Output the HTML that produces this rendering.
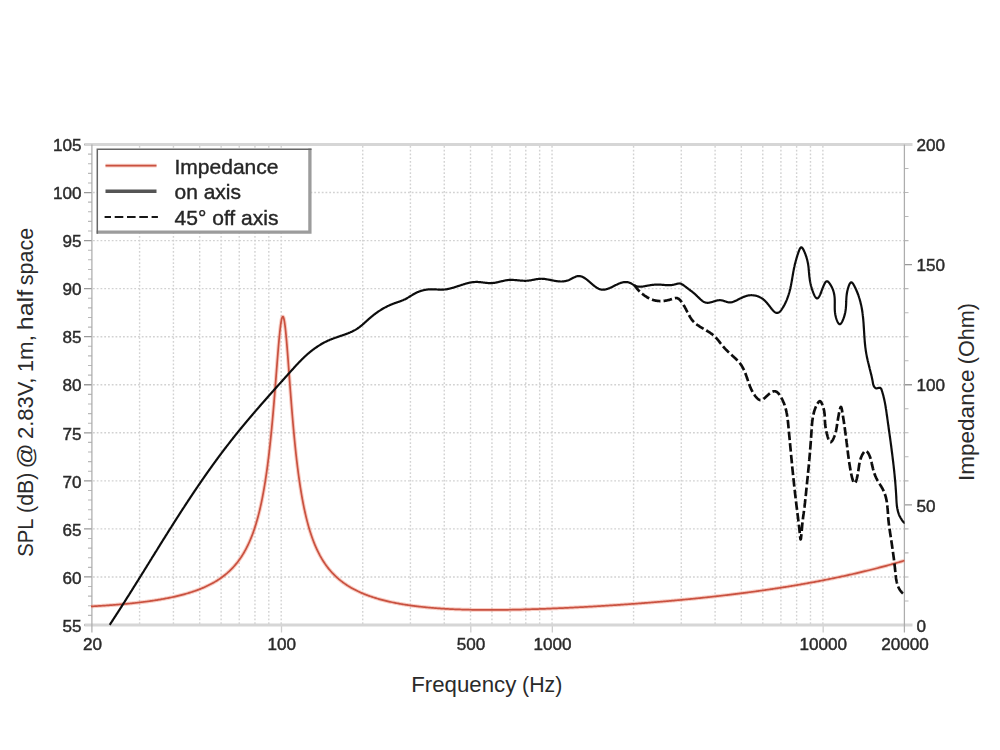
<!DOCTYPE html>
<html><head><meta charset="utf-8"><title>Frequency response</title>
<style>html,body{margin:0;padding:0;background:#fff;width:1000px;height:750px;overflow:hidden}svg{display:block}</style></head>
<body>
<svg width="1000" height="750" viewBox="0 0 1000 750">
<rect width="1000" height="750" fill="#fff"/>
<filter id="b" x="0" y="0" width="1000" height="750" filterUnits="userSpaceOnUse"><feGaussianBlur stdDeviation="0.7"/></filter>
<g filter="url(#b)">
<g stroke="#d2d2d2" stroke-width="1.4" stroke-dasharray="1.8 1.95" fill="none">
<path d="M93,576.95H904"/>
<path d="M93,528.90H904"/>
<path d="M93,480.85H904"/>
<path d="M93,432.80H904"/>
<path d="M93,384.75H904"/>
<path d="M93,336.70H904"/>
<path d="M93,288.65H904"/>
<path d="M93,240.60H904"/>
<path d="M93,192.55H904"/>
<path d="M139.59,146V624"/>
<path d="M173.43,146V624"/>
<path d="M199.68,146V624"/>
<path d="M221.12,146V624"/>
<path d="M239.25,146V624"/>
<path d="M254.96,146V624"/>
<path d="M268.81,146V624"/>
<path d="M281.20,146V624"/>
<path d="M362.73,146V624"/>
<path d="M410.42,146V624"/>
<path d="M444.26,146V624"/>
<path d="M470.51,146V624"/>
<path d="M491.95,146V624"/>
<path d="M510.09,146V624"/>
<path d="M525.79,146V624"/>
<path d="M539.65,146V624"/>
<path d="M552.04,146V624"/>
<path d="M633.57,146V624"/>
<path d="M681.26,146V624"/>
<path d="M715.10,146V624"/>
<path d="M741.34,146V624"/>
<path d="M762.79,146V624"/>
<path d="M780.92,146V624"/>
<path d="M796.62,146V624"/>
<path d="M810.48,146V624"/>
<path d="M822.87,146V624"/>
</g>
<path d="M281.50,625.00V632.50M470.81,625.00V632.50M552.34,625.00V632.50M823.17,625.00V632.50" stroke="#cdcdcd" stroke-width="1.3" fill="none"/>
<path d="M84,625.00H92M84,576.95H92M84,528.90H92M84,480.85H92M84,432.80H92M84,384.75H92M84,336.70H92M84,288.65H92M84,240.60H92M84,192.55H92M84,144.50H92M904,625.00H912M904,504.88H912M904,384.75H912M904,264.62H912M904,144.50H912" stroke="#999" stroke-width="1.3" fill="none"/>
<path d="M88,615.39H92M88,605.78H92M88,596.17H92M88,586.56H92M88,567.34H92M88,557.73H92M88,548.12H92M88,538.51H92M88,519.29H92M88,509.68H92M88,500.07H92M88,490.46H92M88,471.24H92M88,461.63H92M88,452.02H92M88,442.41H92M88,423.19H92M88,413.58H92M88,403.97H92M88,394.36H92M88,375.14H92M88,365.53H92M88,355.92H92M88,346.31H92M88,327.09H92M88,317.48H92M88,307.87H92M88,298.26H92M88,279.04H92M88,269.43H92M88,259.82H92M88,250.21H92M88,230.99H92M88,221.38H92M88,211.77H92M88,202.16H92M88,182.94H92M88,173.33H92M88,163.72H92M88,154.11H92M904,600.98H908.5M904,576.95H908.5M904,552.92H908.5M904,528.90H908.5M904,480.85H908.5M904,456.82H908.5M904,432.80H908.5M904,408.77H908.5M904,360.73H908.5M904,336.70H908.5M904,312.68H908.5M904,288.65H908.5M904,240.60H908.5M904,216.57H908.5M904,192.55H908.5M904,168.52H908.5" stroke="#b8b8b8" stroke-width="1.1" fill="none"/>
<path d="M84.5,144.50H912.5M84.5,625.00H912.5" stroke="#d6d6d6" stroke-width="3" fill="none"/>
<path d="M91.90,144.50V632.50M904.40,144.50V632.50" stroke="#adadad" stroke-width="1.25" fill="none"/>
<clipPath id="c"><rect x="91" y="140" width="814.5" height="486"/></clipPath>
<g clip-path="url(#c)" fill="none" stroke-linejoin="round" stroke-linecap="butt">
<path d="M90.90,606.40 L91.90,606.35 L92.90,606.29 L93.90,606.24 L94.90,606.18 L95.90,606.12 L96.90,606.06 L97.90,606.00 L98.90,605.94 L99.90,605.88 L100.90,605.82 L101.90,605.76 L102.90,605.69 L103.90,605.63 L104.90,605.56 L105.90,605.49 L106.90,605.42 L107.90,605.35 L108.90,605.28 L109.90,605.21 L110.90,605.14 L111.90,605.06 L112.90,604.99 L113.90,604.91 L114.90,604.83 L115.90,604.75 L116.90,604.67 L117.90,604.59 L118.90,604.51 L119.90,604.42 L120.90,604.34 L121.90,604.25 L122.90,604.16 L123.90,604.07 L124.90,603.98 L125.90,603.88 L126.90,603.79 L127.90,603.69 L128.90,603.59 L129.90,603.49 L130.90,603.39 L131.90,603.29 L132.90,603.18 L133.90,603.08 L134.90,602.97 L135.90,602.86 L136.90,602.75 L137.90,602.63 L138.90,602.51 L139.90,602.40 L140.90,602.28 L141.90,602.15 L142.90,602.03 L143.90,601.90 L144.90,601.77 L145.90,601.64 L146.90,601.51 L147.90,601.37 L148.90,601.23 L149.90,601.09 L150.90,600.95 L151.90,600.80 L152.90,600.66 L153.90,600.51 L154.90,600.35 L155.90,600.19 L156.90,600.04 L157.90,599.87 L158.90,599.71 L159.90,599.54 L160.90,599.37 L161.90,599.19 L162.90,599.01 L163.90,598.83 L164.90,598.65 L165.90,598.46 L166.90,598.27 L167.90,598.07 L168.90,597.87 L169.90,597.67 L170.90,597.46 L171.90,597.25 L172.90,597.03 L173.90,596.81 L174.90,596.59 L175.90,596.36 L176.90,596.12 L177.90,595.89 L178.90,595.64 L179.90,595.39 L180.90,595.14 L181.90,594.88 L182.90,594.62 L183.90,594.35 L184.90,594.07 L185.90,593.79 L186.90,593.50 L187.90,593.20 L188.90,592.90 L189.90,592.59 L190.90,592.28 L191.90,591.96 L192.90,591.63 L193.90,591.29 L194.90,590.94 L195.90,590.59 L196.90,590.23 L197.90,589.86 L198.90,589.48 L199.90,589.09 L200.90,588.69 L201.90,588.28 L202.90,587.86 L203.90,587.43 L204.90,586.99 L205.90,586.54 L206.90,586.07 L207.90,585.60 L208.90,585.11 L209.90,584.60 L210.90,584.09 L211.90,583.56 L212.90,583.01 L213.90,582.45 L214.90,581.87 L215.90,581.27 L216.90,580.66 L217.90,580.02 L218.90,579.37 L219.90,578.70 L220.90,578.00 L221.90,577.29 L222.90,576.55 L223.90,575.78 L224.90,574.99 L225.90,574.17 L226.90,573.33 L227.90,572.45 L228.90,571.55 L229.90,570.61 L230.90,569.63 L231.90,568.62 L232.90,567.57 L233.90,566.48 L234.90,565.35 L235.90,564.17 L236.90,562.94 L237.90,561.66 L238.90,560.32 L239.90,558.93 L240.90,557.48 L241.90,555.95 L242.90,554.36 L243.90,552.69 L244.90,550.94 L245.90,549.11 L246.90,547.18 L247.90,545.15 L248.90,543.01 L249.90,540.76 L250.90,538.38 L251.90,535.87 L252.90,533.20 L253.90,530.38 L254.90,527.39 L255.90,524.21 L256.90,520.82 L257.90,517.21 L258.90,513.35 L259.90,509.22 L260.00,508.79 L260.15,508.14 L260.30,507.49 L260.45,506.82 L260.60,506.16 L260.75,505.48 L260.90,504.80 L261.05,504.10 L261.20,503.41 L261.35,502.70 L261.50,501.99 L261.65,501.27 L261.80,500.54 L261.95,499.80 L262.10,499.06 L262.25,498.30 L262.40,497.54 L262.55,496.77 L262.70,495.99 L262.85,495.21 L263.00,494.41 L263.15,493.61 L263.30,492.79 L263.45,491.97 L263.60,491.14 L263.75,490.30 L263.90,489.45 L264.05,488.59 L264.20,487.72 L264.35,486.84 L264.50,485.95 L264.65,485.05 L264.80,484.14 L264.95,483.21 L265.10,482.28 L265.25,481.34 L265.40,480.38 L265.55,479.42 L265.70,478.44 L265.85,477.45 L266.00,476.46 L266.15,475.44 L266.30,474.42 L266.45,473.39 L266.60,472.34 L266.75,471.28 L266.90,470.21 L267.05,469.12 L267.20,468.02 L267.35,466.91 L267.50,465.79 L267.65,464.65 L267.80,463.50 L267.95,462.34 L268.10,461.16 L268.25,459.96 L268.40,458.76 L268.55,457.54 L268.70,456.30 L268.85,455.05 L269.00,453.78 L269.15,452.50 L269.30,451.21 L269.45,449.90 L269.60,448.57 L269.75,447.23 L269.90,445.88 L270.05,444.50 L270.20,443.11 L270.35,441.71 L270.50,440.29 L270.65,438.85 L270.80,437.40 L270.95,435.93 L271.10,434.44 L271.25,432.94 L271.40,431.42 L271.55,429.89 L271.70,428.33 L271.85,426.77 L272.00,425.18 L272.15,423.58 L272.30,421.96 L272.45,420.33 L272.60,418.68 L272.75,417.01 L272.90,415.33 L273.05,413.63 L273.20,411.91 L273.35,410.18 L273.50,408.44 L273.65,406.68 L273.80,404.90 L273.95,403.11 L274.10,401.31 L274.25,399.49 L274.40,397.67 L274.55,395.82 L274.70,393.97 L274.85,392.11 L275.00,390.23 L275.15,388.35 L275.30,386.46 L275.45,384.55 L275.60,382.65 L275.75,380.73 L275.90,378.81 L276.05,376.89 L276.20,374.96 L276.35,373.03 L276.50,371.11 L276.65,369.18 L276.80,367.26 L276.95,365.34 L277.10,363.42 L277.25,361.52 L277.40,359.62 L277.55,357.73 L277.70,355.86 L277.85,354.00 L278.00,352.16 L278.15,350.34 L278.30,348.54 L278.45,346.77 L278.60,345.02 L278.75,343.30 L278.90,341.61 L279.05,339.95 L279.20,338.33 L279.35,336.75 L279.50,335.21 L279.65,333.72 L279.80,332.27 L279.95,330.87 L280.10,329.52 L280.25,328.23 L280.40,327.00 L280.55,325.82 L280.70,324.70 L280.85,323.65 L281.00,322.67 L281.15,321.75 L281.30,320.91 L281.45,320.13 L281.60,319.43 L281.75,318.81 L281.90,318.27 L282.05,317.80 L282.20,317.41 L282.35,317.10 L282.50,316.88 L282.65,316.74 L282.80,316.67 L282.95,316.70 L283.10,316.81 L283.25,317.01 L283.40,317.30 L283.55,317.67 L283.70,318.13 L283.85,318.68 L284.00,319.30 L284.15,320.02 L284.30,320.81 L284.45,321.68 L284.60,322.62 L284.75,323.64 L284.90,324.74 L285.05,325.90 L285.20,327.13 L285.35,328.42 L285.50,329.78 L285.65,331.19 L285.80,332.66 L285.95,334.19 L286.10,335.76 L286.25,337.38 L286.40,339.05 L286.55,340.76 L286.70,342.50 L286.85,344.29 L287.00,346.10 L287.15,347.95 L287.30,349.82 L287.45,351.72 L287.60,353.64 L287.75,355.58 L287.90,357.54 L288.05,359.52 L288.20,361.51 L288.35,363.51 L288.50,365.52 L288.65,367.53 L288.80,369.55 L288.95,371.58 L289.10,373.61 L289.25,375.63 L289.40,377.66 L289.55,379.68 L289.70,381.70 L289.85,383.71 L290.00,385.72 L290.15,387.72 L290.30,389.71 L290.45,391.69 L290.60,393.66 L290.75,395.62 L290.90,397.56 L291.05,399.50 L291.20,401.42 L291.35,403.32 L291.50,405.21 L291.65,407.09 L291.80,408.95 L291.95,410.79 L292.10,412.62 L292.25,414.43 L292.40,416.23 L292.55,418.01 L292.70,419.77 L292.85,421.51 L293.00,423.23 L293.15,424.94 L293.30,426.63 L293.45,428.30 L293.60,429.95 L293.75,431.59 L293.90,433.20 L294.05,434.80 L294.20,436.38 L294.35,437.94 L294.50,439.49 L294.65,441.02 L294.80,442.53 L294.95,444.02 L295.10,445.49 L295.25,446.95 L295.40,448.39 L295.55,449.81 L295.70,451.21 L295.85,452.60 L296.00,453.97 L296.15,455.33 L296.30,456.67 L296.45,457.99 L296.60,459.30 L296.75,460.59 L296.90,461.86 L297.05,463.12 L297.20,464.36 L297.35,465.59 L297.50,466.81 L297.65,468.01 L297.80,469.19 L297.95,470.36 L298.10,471.52 L298.25,472.66 L298.40,473.79 L298.55,474.90 L298.70,476.00 L298.85,477.09 L299.00,478.16 L299.15,479.22 L299.30,480.27 L299.45,481.31 L299.60,482.33 L299.75,483.34 L299.90,484.34 L300.05,485.33 L300.20,486.30 L300.35,487.27 L300.50,488.22 L300.65,489.16 L300.80,490.09 L300.95,491.01 L301.10,491.92 L301.25,492.82 L301.40,493.70 L301.55,494.58 L301.70,495.45 L301.85,496.30 L302.00,497.15 L302.15,497.99 L302.30,498.82 L302.45,499.63 L302.60,500.44 L302.75,501.24 L302.90,502.03 L303.05,502.82 L303.20,503.59 L303.35,504.35 L303.50,505.11 L303.65,505.86 L303.80,506.60 L303.95,507.33 L304.10,508.05 L304.25,508.77 L304.40,509.48 L304.55,510.18 L304.70,510.87 L304.85,511.55 L305.00,512.23 L306.00,516.57 L307.00,520.61 L308.00,524.39 L309.00,527.93 L310.00,531.24 L311.00,534.36 L312.00,537.29 L313.00,540.04 L314.00,542.65 L315.00,545.10 L316.00,547.43 L317.00,549.63 L318.00,551.72 L319.00,553.70 L320.00,555.59 L321.00,557.38 L322.00,559.09 L323.00,560.72 L324.00,562.28 L325.00,563.77 L326.00,565.19 L327.00,566.56 L328.00,567.86 L329.00,569.12 L330.00,570.32 L331.00,571.47 L332.00,572.59 L333.00,573.65 L334.00,574.68 L335.00,575.67 L336.00,576.63 L337.00,577.55 L338.00,578.44 L339.00,579.29 L340.00,580.12 L341.00,580.93 L342.00,581.70 L343.00,582.45 L344.00,583.18 L345.00,583.88 L346.00,584.56 L347.00,585.22 L348.00,585.86 L349.00,586.48 L350.00,587.09 L351.00,587.67 L352.00,588.24 L353.00,588.79 L354.00,589.33 L355.00,589.85 L356.00,590.36 L357.00,590.85 L358.00,591.34 L359.00,591.80 L360.00,592.26 L361.00,592.70 L362.00,593.14 L363.00,593.56 L364.00,593.97 L365.00,594.37 L366.00,594.76 L367.00,595.14 L368.00,595.51 L369.00,595.87 L370.00,596.23 L371.00,596.57 L372.00,596.91 L373.00,597.24 L374.00,597.56 L375.00,597.88 L376.00,598.18 L377.00,598.48 L378.00,598.78 L379.00,599.06 L380.00,599.34 L381.00,599.61 L382.00,599.88 L383.00,600.14 L384.00,600.40 L385.00,600.65 L386.00,600.89 L387.00,601.13 L388.00,601.36 L389.00,601.59 L390.00,601.82 L391.00,602.04 L392.00,602.25 L393.00,602.46 L394.00,602.66 L395.00,602.86 L396.00,603.06 L397.00,603.25 L398.00,603.44 L399.00,603.62 L400.00,603.80 L401.00,603.98 L402.00,604.15 L403.00,604.32 L404.00,604.48 L405.00,604.64 L406.00,604.80 L407.00,604.95 L408.00,605.10 L409.00,605.25 L410.00,605.40 L411.00,605.54 L412.00,605.67 L413.00,605.81 L414.00,605.94 L415.00,606.07 L416.00,606.20 L417.00,606.32 L418.00,606.44 L419.00,606.56 L420.00,606.67 L421.00,606.78 L422.00,606.89 L423.00,607.00 L424.00,607.10 L425.00,607.21 L426.00,607.30 L427.00,607.40 L428.00,607.50 L429.00,607.59 L430.00,607.68 L431.00,607.77 L432.00,607.85 L433.00,607.94 L434.00,608.02 L435.00,608.10 L436.00,608.17 L437.00,608.25 L438.00,608.32 L439.00,608.39 L440.00,608.46 L441.00,608.53 L442.00,608.59 L443.00,608.66 L444.00,608.72 L445.00,608.78 L446.00,608.83 L447.00,608.89 L448.00,608.94 L449.00,609.00 L450.00,609.05 L451.00,609.10 L452.00,609.15 L453.00,609.19 L454.00,609.24 L455.00,609.28 L456.00,609.32 L457.00,609.36 L458.00,609.40 L459.00,609.43 L460.00,609.47 L461.00,609.50 L462.00,609.54 L463.00,609.57 L464.00,609.60 L465.00,609.62 L466.00,609.65 L467.00,609.68 L468.00,609.70 L469.00,609.72 L470.00,609.75 L471.00,609.77 L472.00,609.79 L473.00,609.80 L474.00,609.82 L475.00,609.84 L476.00,609.85 L477.00,609.86 L478.00,609.88 L479.00,609.89 L480.00,609.90 L481.00,609.91 L482.00,609.91 L483.00,609.92 L484.00,609.93 L485.00,609.93 L486.00,609.94 L487.00,609.94 L488.00,609.94 L489.00,609.94 L490.00,609.94 L491.00,609.94 L492.00,609.94 L493.00,609.93 L494.00,609.93 L495.00,609.93 L496.00,609.92 L497.00,609.91 L498.00,609.91 L499.00,609.90 L500.00,609.89 L501.00,609.88 L502.00,609.87 L503.00,609.86 L504.00,609.85 L505.00,609.83 L506.00,609.82 L507.00,609.80 L508.00,609.79 L509.00,609.77 L510.00,609.76 L511.00,609.74 L512.00,609.72 L513.00,609.70 L514.00,609.68 L515.00,609.66 L516.00,609.64 L517.00,609.62 L518.00,609.60 L519.00,609.57 L520.00,609.55 L521.00,609.53 L522.00,609.50 L523.00,609.48 L524.00,609.45 L525.00,609.42 L526.00,609.40 L527.00,609.37 L528.00,609.34 L529.00,609.31 L530.00,609.28 L531.00,609.25 L532.00,609.22 L533.00,609.19 L534.00,609.16 L535.00,609.13 L536.00,609.09 L537.00,609.06 L538.00,609.03 L539.00,608.99 L540.00,608.96 L541.00,608.92 L542.00,608.89 L543.00,608.85 L544.00,608.81 L545.00,608.78 L546.00,608.74 L547.00,608.70 L548.00,608.66 L549.00,608.62 L550.00,608.58 L551.00,608.54 L552.00,608.50 L553.00,608.46 L554.00,608.42 L555.00,608.38 L556.00,608.33 L557.00,608.29 L558.00,608.25 L559.00,608.21 L560.00,608.16 L561.00,608.12 L562.00,608.07 L563.00,608.03 L564.00,607.98 L565.00,607.93 L566.00,607.89 L567.00,607.84 L568.00,607.79 L569.00,607.74 L570.00,607.70 L571.00,607.65 L572.00,607.60 L573.00,607.55 L574.00,607.50 L575.00,607.45 L576.00,607.40 L577.00,607.35 L578.00,607.29 L579.00,607.24 L580.00,607.19 L581.00,607.14 L582.00,607.08 L583.00,607.03 L584.00,606.98 L585.00,606.92 L586.00,606.87 L587.00,606.81 L588.00,606.76 L589.00,606.70 L590.00,606.65 L591.00,606.59 L592.00,606.53 L593.00,606.48 L594.00,606.42 L595.00,606.36 L596.00,606.30 L597.00,606.24 L598.00,606.18 L599.00,606.12 L600.00,606.06 L601.00,606.00 L602.00,605.94 L603.00,605.88 L604.00,605.82 L605.00,605.76 L606.00,605.70 L607.00,605.63 L608.00,605.57 L609.00,605.51 L610.00,605.44 L611.00,605.38 L612.00,605.31 L613.00,605.25 L614.00,605.18 L615.00,605.12 L616.00,605.05 L617.00,604.99 L618.00,604.92 L619.00,604.85 L620.00,604.78 L621.00,604.72 L622.00,604.65 L623.00,604.58 L624.00,604.51 L625.00,604.44 L626.00,604.37 L627.00,604.30 L628.00,604.23 L629.00,604.16 L630.00,604.09 L631.00,604.02 L632.00,603.94 L633.00,603.87 L634.00,603.80 L635.00,603.73 L636.00,603.65 L637.00,603.58 L638.00,603.50 L639.00,603.43 L640.00,603.35 L641.00,603.28 L642.00,603.20 L643.00,603.12 L644.00,603.05 L645.00,602.97 L646.00,602.89 L647.00,602.81 L648.00,602.73 L649.00,602.66 L650.00,602.58 L651.00,602.50 L652.00,602.42 L653.00,602.34 L654.00,602.25 L655.00,602.17 L656.00,602.09 L657.00,602.01 L658.00,601.93 L659.00,601.84 L660.00,601.76 L661.00,601.67 L662.00,601.59 L663.00,601.50 L664.00,601.42 L665.00,601.33 L666.00,601.25 L667.00,601.16 L668.00,601.07 L669.00,600.98 L670.00,600.90 L671.00,600.81 L672.00,600.72 L673.00,600.63 L674.00,600.54 L675.00,600.45 L676.00,600.36 L677.00,600.27 L678.00,600.17 L679.00,600.08 L680.00,599.99 L681.00,599.90 L682.00,599.80 L683.00,599.71 L684.00,599.61 L685.00,599.52 L686.00,599.42 L687.00,599.33 L688.00,599.23 L689.00,599.13 L690.00,599.03 L691.00,598.94 L692.00,598.84 L693.00,598.74 L694.00,598.64 L695.00,598.54 L696.00,598.44 L697.00,598.34 L698.00,598.23 L699.00,598.13 L700.00,598.03 L701.00,597.93 L702.00,597.82 L703.00,597.72 L704.00,597.61 L705.00,597.51 L706.00,597.40 L707.00,597.29 L708.00,597.19 L709.00,597.08 L710.00,596.97 L711.00,596.86 L712.00,596.75 L713.00,596.64 L714.00,596.53 L715.00,596.42 L716.00,596.31 L717.00,596.20 L718.00,596.08 L719.00,595.97 L720.00,595.86 L721.00,595.74 L722.00,595.63 L723.00,595.51 L724.00,595.39 L725.00,595.28 L726.00,595.16 L727.00,595.04 L728.00,594.92 L729.00,594.80 L730.00,594.68 L731.00,594.56 L732.00,594.44 L733.00,594.32 L734.00,594.20 L735.00,594.07 L736.00,593.95 L737.00,593.83 L738.00,593.70 L739.00,593.58 L740.00,593.45 L741.00,593.32 L742.00,593.20 L743.00,593.07 L744.00,592.94 L745.00,592.81 L746.00,592.68 L747.00,592.55 L748.00,592.42 L749.00,592.28 L750.00,592.15 L751.00,592.02 L752.00,591.88 L753.00,591.75 L754.00,591.61 L755.00,591.48 L756.00,591.34 L757.00,591.20 L758.00,591.06 L759.00,590.92 L760.00,590.78 L761.00,590.64 L762.00,590.50 L763.00,590.36 L764.00,590.22 L765.00,590.07 L766.00,589.93 L767.00,589.78 L768.00,589.64 L769.00,589.49 L770.00,589.34 L771.00,589.19 L772.00,589.04 L773.00,588.90 L774.00,588.74 L775.00,588.59 L776.00,588.44 L777.00,588.29 L778.00,588.13 L779.00,587.98 L780.00,587.83 L781.00,587.67 L782.00,587.51 L783.00,587.35 L784.00,587.20 L785.00,587.04 L786.00,586.88 L787.00,586.72 L788.00,586.55 L789.00,586.39 L790.00,586.23 L791.00,586.06 L792.00,585.90 L793.00,585.73 L794.00,585.57 L795.00,585.40 L796.00,585.23 L797.00,585.06 L798.00,584.89 L799.00,584.72 L800.00,584.55 L801.00,584.37 L802.00,584.20 L803.00,584.02 L804.00,583.85 L805.00,583.67 L806.00,583.49 L807.00,583.31 L808.00,583.14 L809.00,582.95 L810.00,582.77 L811.00,582.59 L812.00,582.41 L813.00,582.22 L814.00,582.04 L815.00,581.85 L816.00,581.67 L817.00,581.48 L818.00,581.29 L819.00,581.10 L820.00,580.91 L821.00,580.72 L822.00,580.52 L823.00,580.33 L824.00,580.13 L825.00,579.94 L826.00,579.74 L827.00,579.54 L828.00,579.34 L829.00,579.14 L830.00,578.94 L831.00,578.74 L832.00,578.54 L833.00,578.33 L834.00,578.13 L835.00,577.92 L836.00,577.71 L837.00,577.50 L838.00,577.29 L839.00,577.08 L840.00,576.87 L841.00,576.66 L842.00,576.44 L843.00,576.23 L844.00,576.01 L845.00,575.80 L846.00,575.58 L847.00,575.36 L848.00,575.14 L849.00,574.91 L850.00,574.69 L851.00,574.47 L852.00,574.24 L853.00,574.01 L854.00,573.79 L855.00,573.56 L856.00,573.33 L857.00,573.10 L858.00,572.86 L859.00,572.63 L860.00,572.39 L861.00,572.16 L862.00,571.92 L863.00,571.68 L864.00,571.44 L865.00,571.20 L866.00,570.96 L867.00,570.71 L868.00,570.47 L869.00,570.22 L870.00,569.97 L871.00,569.73 L872.00,569.47 L873.00,569.22 L874.00,568.97 L875.00,568.72 L876.00,568.46 L877.00,568.20 L878.00,567.95 L879.00,567.69 L880.00,567.43 L881.00,567.16 L882.00,566.90 L883.00,566.63 L884.00,566.37 L885.00,566.10 L886.00,565.83 L887.00,565.56 L888.00,565.29 L889.00,565.02 L890.00,564.74 L891.00,564.46 L892.00,564.19 L893.00,563.91 L894.00,563.63 L895.00,563.34 L896.00,563.06 L897.00,562.78 L898.00,562.49 L899.00,562.20 L900.00,561.91 L901.00,561.62 L902.00,561.33 L903.00,561.03 L904.00,560.74 L904.40,560.62" stroke="#f29a88" stroke-width="3.8" stroke-opacity="0.5"/>
<path d="M90.90,606.40 L91.90,606.35 L92.90,606.29 L93.90,606.24 L94.90,606.18 L95.90,606.12 L96.90,606.06 L97.90,606.00 L98.90,605.94 L99.90,605.88 L100.90,605.82 L101.90,605.76 L102.90,605.69 L103.90,605.63 L104.90,605.56 L105.90,605.49 L106.90,605.42 L107.90,605.35 L108.90,605.28 L109.90,605.21 L110.90,605.14 L111.90,605.06 L112.90,604.99 L113.90,604.91 L114.90,604.83 L115.90,604.75 L116.90,604.67 L117.90,604.59 L118.90,604.51 L119.90,604.42 L120.90,604.34 L121.90,604.25 L122.90,604.16 L123.90,604.07 L124.90,603.98 L125.90,603.88 L126.90,603.79 L127.90,603.69 L128.90,603.59 L129.90,603.49 L130.90,603.39 L131.90,603.29 L132.90,603.18 L133.90,603.08 L134.90,602.97 L135.90,602.86 L136.90,602.75 L137.90,602.63 L138.90,602.51 L139.90,602.40 L140.90,602.28 L141.90,602.15 L142.90,602.03 L143.90,601.90 L144.90,601.77 L145.90,601.64 L146.90,601.51 L147.90,601.37 L148.90,601.23 L149.90,601.09 L150.90,600.95 L151.90,600.80 L152.90,600.66 L153.90,600.51 L154.90,600.35 L155.90,600.19 L156.90,600.04 L157.90,599.87 L158.90,599.71 L159.90,599.54 L160.90,599.37 L161.90,599.19 L162.90,599.01 L163.90,598.83 L164.90,598.65 L165.90,598.46 L166.90,598.27 L167.90,598.07 L168.90,597.87 L169.90,597.67 L170.90,597.46 L171.90,597.25 L172.90,597.03 L173.90,596.81 L174.90,596.59 L175.90,596.36 L176.90,596.12 L177.90,595.89 L178.90,595.64 L179.90,595.39 L180.90,595.14 L181.90,594.88 L182.90,594.62 L183.90,594.35 L184.90,594.07 L185.90,593.79 L186.90,593.50 L187.90,593.20 L188.90,592.90 L189.90,592.59 L190.90,592.28 L191.90,591.96 L192.90,591.63 L193.90,591.29 L194.90,590.94 L195.90,590.59 L196.90,590.23 L197.90,589.86 L198.90,589.48 L199.90,589.09 L200.90,588.69 L201.90,588.28 L202.90,587.86 L203.90,587.43 L204.90,586.99 L205.90,586.54 L206.90,586.07 L207.90,585.60 L208.90,585.11 L209.90,584.60 L210.90,584.09 L211.90,583.56 L212.90,583.01 L213.90,582.45 L214.90,581.87 L215.90,581.27 L216.90,580.66 L217.90,580.02 L218.90,579.37 L219.90,578.70 L220.90,578.00 L221.90,577.29 L222.90,576.55 L223.90,575.78 L224.90,574.99 L225.90,574.17 L226.90,573.33 L227.90,572.45 L228.90,571.55 L229.90,570.61 L230.90,569.63 L231.90,568.62 L232.90,567.57 L233.90,566.48 L234.90,565.35 L235.90,564.17 L236.90,562.94 L237.90,561.66 L238.90,560.32 L239.90,558.93 L240.90,557.48 L241.90,555.95 L242.90,554.36 L243.90,552.69 L244.90,550.94 L245.90,549.11 L246.90,547.18 L247.90,545.15 L248.90,543.01 L249.90,540.76 L250.90,538.38 L251.90,535.87 L252.90,533.20 L253.90,530.38 L254.90,527.39 L255.90,524.21 L256.90,520.82 L257.90,517.21 L258.90,513.35 L259.90,509.22 L260.00,508.79 L260.15,508.14 L260.30,507.49 L260.45,506.82 L260.60,506.16 L260.75,505.48 L260.90,504.80 L261.05,504.10 L261.20,503.41 L261.35,502.70 L261.50,501.99 L261.65,501.27 L261.80,500.54 L261.95,499.80 L262.10,499.06 L262.25,498.30 L262.40,497.54 L262.55,496.77 L262.70,495.99 L262.85,495.21 L263.00,494.41 L263.15,493.61 L263.30,492.79 L263.45,491.97 L263.60,491.14 L263.75,490.30 L263.90,489.45 L264.05,488.59 L264.20,487.72 L264.35,486.84 L264.50,485.95 L264.65,485.05 L264.80,484.14 L264.95,483.21 L265.10,482.28 L265.25,481.34 L265.40,480.38 L265.55,479.42 L265.70,478.44 L265.85,477.45 L266.00,476.46 L266.15,475.44 L266.30,474.42 L266.45,473.39 L266.60,472.34 L266.75,471.28 L266.90,470.21 L267.05,469.12 L267.20,468.02 L267.35,466.91 L267.50,465.79 L267.65,464.65 L267.80,463.50 L267.95,462.34 L268.10,461.16 L268.25,459.96 L268.40,458.76 L268.55,457.54 L268.70,456.30 L268.85,455.05 L269.00,453.78 L269.15,452.50 L269.30,451.21 L269.45,449.90 L269.60,448.57 L269.75,447.23 L269.90,445.88 L270.05,444.50 L270.20,443.11 L270.35,441.71 L270.50,440.29 L270.65,438.85 L270.80,437.40 L270.95,435.93 L271.10,434.44 L271.25,432.94 L271.40,431.42 L271.55,429.89 L271.70,428.33 L271.85,426.77 L272.00,425.18 L272.15,423.58 L272.30,421.96 L272.45,420.33 L272.60,418.68 L272.75,417.01 L272.90,415.33 L273.05,413.63 L273.20,411.91 L273.35,410.18 L273.50,408.44 L273.65,406.68 L273.80,404.90 L273.95,403.11 L274.10,401.31 L274.25,399.49 L274.40,397.67 L274.55,395.82 L274.70,393.97 L274.85,392.11 L275.00,390.23 L275.15,388.35 L275.30,386.46 L275.45,384.55 L275.60,382.65 L275.75,380.73 L275.90,378.81 L276.05,376.89 L276.20,374.96 L276.35,373.03 L276.50,371.11 L276.65,369.18 L276.80,367.26 L276.95,365.34 L277.10,363.42 L277.25,361.52 L277.40,359.62 L277.55,357.73 L277.70,355.86 L277.85,354.00 L278.00,352.16 L278.15,350.34 L278.30,348.54 L278.45,346.77 L278.60,345.02 L278.75,343.30 L278.90,341.61 L279.05,339.95 L279.20,338.33 L279.35,336.75 L279.50,335.21 L279.65,333.72 L279.80,332.27 L279.95,330.87 L280.10,329.52 L280.25,328.23 L280.40,327.00 L280.55,325.82 L280.70,324.70 L280.85,323.65 L281.00,322.67 L281.15,321.75 L281.30,320.91 L281.45,320.13 L281.60,319.43 L281.75,318.81 L281.90,318.27 L282.05,317.80 L282.20,317.41 L282.35,317.10 L282.50,316.88 L282.65,316.74 L282.80,316.67 L282.95,316.70 L283.10,316.81 L283.25,317.01 L283.40,317.30 L283.55,317.67 L283.70,318.13 L283.85,318.68 L284.00,319.30 L284.15,320.02 L284.30,320.81 L284.45,321.68 L284.60,322.62 L284.75,323.64 L284.90,324.74 L285.05,325.90 L285.20,327.13 L285.35,328.42 L285.50,329.78 L285.65,331.19 L285.80,332.66 L285.95,334.19 L286.10,335.76 L286.25,337.38 L286.40,339.05 L286.55,340.76 L286.70,342.50 L286.85,344.29 L287.00,346.10 L287.15,347.95 L287.30,349.82 L287.45,351.72 L287.60,353.64 L287.75,355.58 L287.90,357.54 L288.05,359.52 L288.20,361.51 L288.35,363.51 L288.50,365.52 L288.65,367.53 L288.80,369.55 L288.95,371.58 L289.10,373.61 L289.25,375.63 L289.40,377.66 L289.55,379.68 L289.70,381.70 L289.85,383.71 L290.00,385.72 L290.15,387.72 L290.30,389.71 L290.45,391.69 L290.60,393.66 L290.75,395.62 L290.90,397.56 L291.05,399.50 L291.20,401.42 L291.35,403.32 L291.50,405.21 L291.65,407.09 L291.80,408.95 L291.95,410.79 L292.10,412.62 L292.25,414.43 L292.40,416.23 L292.55,418.01 L292.70,419.77 L292.85,421.51 L293.00,423.23 L293.15,424.94 L293.30,426.63 L293.45,428.30 L293.60,429.95 L293.75,431.59 L293.90,433.20 L294.05,434.80 L294.20,436.38 L294.35,437.94 L294.50,439.49 L294.65,441.02 L294.80,442.53 L294.95,444.02 L295.10,445.49 L295.25,446.95 L295.40,448.39 L295.55,449.81 L295.70,451.21 L295.85,452.60 L296.00,453.97 L296.15,455.33 L296.30,456.67 L296.45,457.99 L296.60,459.30 L296.75,460.59 L296.90,461.86 L297.05,463.12 L297.20,464.36 L297.35,465.59 L297.50,466.81 L297.65,468.01 L297.80,469.19 L297.95,470.36 L298.10,471.52 L298.25,472.66 L298.40,473.79 L298.55,474.90 L298.70,476.00 L298.85,477.09 L299.00,478.16 L299.15,479.22 L299.30,480.27 L299.45,481.31 L299.60,482.33 L299.75,483.34 L299.90,484.34 L300.05,485.33 L300.20,486.30 L300.35,487.27 L300.50,488.22 L300.65,489.16 L300.80,490.09 L300.95,491.01 L301.10,491.92 L301.25,492.82 L301.40,493.70 L301.55,494.58 L301.70,495.45 L301.85,496.30 L302.00,497.15 L302.15,497.99 L302.30,498.82 L302.45,499.63 L302.60,500.44 L302.75,501.24 L302.90,502.03 L303.05,502.82 L303.20,503.59 L303.35,504.35 L303.50,505.11 L303.65,505.86 L303.80,506.60 L303.95,507.33 L304.10,508.05 L304.25,508.77 L304.40,509.48 L304.55,510.18 L304.70,510.87 L304.85,511.55 L305.00,512.23 L306.00,516.57 L307.00,520.61 L308.00,524.39 L309.00,527.93 L310.00,531.24 L311.00,534.36 L312.00,537.29 L313.00,540.04 L314.00,542.65 L315.00,545.10 L316.00,547.43 L317.00,549.63 L318.00,551.72 L319.00,553.70 L320.00,555.59 L321.00,557.38 L322.00,559.09 L323.00,560.72 L324.00,562.28 L325.00,563.77 L326.00,565.19 L327.00,566.56 L328.00,567.86 L329.00,569.12 L330.00,570.32 L331.00,571.47 L332.00,572.59 L333.00,573.65 L334.00,574.68 L335.00,575.67 L336.00,576.63 L337.00,577.55 L338.00,578.44 L339.00,579.29 L340.00,580.12 L341.00,580.93 L342.00,581.70 L343.00,582.45 L344.00,583.18 L345.00,583.88 L346.00,584.56 L347.00,585.22 L348.00,585.86 L349.00,586.48 L350.00,587.09 L351.00,587.67 L352.00,588.24 L353.00,588.79 L354.00,589.33 L355.00,589.85 L356.00,590.36 L357.00,590.85 L358.00,591.34 L359.00,591.80 L360.00,592.26 L361.00,592.70 L362.00,593.14 L363.00,593.56 L364.00,593.97 L365.00,594.37 L366.00,594.76 L367.00,595.14 L368.00,595.51 L369.00,595.87 L370.00,596.23 L371.00,596.57 L372.00,596.91 L373.00,597.24 L374.00,597.56 L375.00,597.88 L376.00,598.18 L377.00,598.48 L378.00,598.78 L379.00,599.06 L380.00,599.34 L381.00,599.61 L382.00,599.88 L383.00,600.14 L384.00,600.40 L385.00,600.65 L386.00,600.89 L387.00,601.13 L388.00,601.36 L389.00,601.59 L390.00,601.82 L391.00,602.04 L392.00,602.25 L393.00,602.46 L394.00,602.66 L395.00,602.86 L396.00,603.06 L397.00,603.25 L398.00,603.44 L399.00,603.62 L400.00,603.80 L401.00,603.98 L402.00,604.15 L403.00,604.32 L404.00,604.48 L405.00,604.64 L406.00,604.80 L407.00,604.95 L408.00,605.10 L409.00,605.25 L410.00,605.40 L411.00,605.54 L412.00,605.67 L413.00,605.81 L414.00,605.94 L415.00,606.07 L416.00,606.20 L417.00,606.32 L418.00,606.44 L419.00,606.56 L420.00,606.67 L421.00,606.78 L422.00,606.89 L423.00,607.00 L424.00,607.10 L425.00,607.21 L426.00,607.30 L427.00,607.40 L428.00,607.50 L429.00,607.59 L430.00,607.68 L431.00,607.77 L432.00,607.85 L433.00,607.94 L434.00,608.02 L435.00,608.10 L436.00,608.17 L437.00,608.25 L438.00,608.32 L439.00,608.39 L440.00,608.46 L441.00,608.53 L442.00,608.59 L443.00,608.66 L444.00,608.72 L445.00,608.78 L446.00,608.83 L447.00,608.89 L448.00,608.94 L449.00,609.00 L450.00,609.05 L451.00,609.10 L452.00,609.15 L453.00,609.19 L454.00,609.24 L455.00,609.28 L456.00,609.32 L457.00,609.36 L458.00,609.40 L459.00,609.43 L460.00,609.47 L461.00,609.50 L462.00,609.54 L463.00,609.57 L464.00,609.60 L465.00,609.62 L466.00,609.65 L467.00,609.68 L468.00,609.70 L469.00,609.72 L470.00,609.75 L471.00,609.77 L472.00,609.79 L473.00,609.80 L474.00,609.82 L475.00,609.84 L476.00,609.85 L477.00,609.86 L478.00,609.88 L479.00,609.89 L480.00,609.90 L481.00,609.91 L482.00,609.91 L483.00,609.92 L484.00,609.93 L485.00,609.93 L486.00,609.94 L487.00,609.94 L488.00,609.94 L489.00,609.94 L490.00,609.94 L491.00,609.94 L492.00,609.94 L493.00,609.93 L494.00,609.93 L495.00,609.93 L496.00,609.92 L497.00,609.91 L498.00,609.91 L499.00,609.90 L500.00,609.89 L501.00,609.88 L502.00,609.87 L503.00,609.86 L504.00,609.85 L505.00,609.83 L506.00,609.82 L507.00,609.80 L508.00,609.79 L509.00,609.77 L510.00,609.76 L511.00,609.74 L512.00,609.72 L513.00,609.70 L514.00,609.68 L515.00,609.66 L516.00,609.64 L517.00,609.62 L518.00,609.60 L519.00,609.57 L520.00,609.55 L521.00,609.53 L522.00,609.50 L523.00,609.48 L524.00,609.45 L525.00,609.42 L526.00,609.40 L527.00,609.37 L528.00,609.34 L529.00,609.31 L530.00,609.28 L531.00,609.25 L532.00,609.22 L533.00,609.19 L534.00,609.16 L535.00,609.13 L536.00,609.09 L537.00,609.06 L538.00,609.03 L539.00,608.99 L540.00,608.96 L541.00,608.92 L542.00,608.89 L543.00,608.85 L544.00,608.81 L545.00,608.78 L546.00,608.74 L547.00,608.70 L548.00,608.66 L549.00,608.62 L550.00,608.58 L551.00,608.54 L552.00,608.50 L553.00,608.46 L554.00,608.42 L555.00,608.38 L556.00,608.33 L557.00,608.29 L558.00,608.25 L559.00,608.21 L560.00,608.16 L561.00,608.12 L562.00,608.07 L563.00,608.03 L564.00,607.98 L565.00,607.93 L566.00,607.89 L567.00,607.84 L568.00,607.79 L569.00,607.74 L570.00,607.70 L571.00,607.65 L572.00,607.60 L573.00,607.55 L574.00,607.50 L575.00,607.45 L576.00,607.40 L577.00,607.35 L578.00,607.29 L579.00,607.24 L580.00,607.19 L581.00,607.14 L582.00,607.08 L583.00,607.03 L584.00,606.98 L585.00,606.92 L586.00,606.87 L587.00,606.81 L588.00,606.76 L589.00,606.70 L590.00,606.65 L591.00,606.59 L592.00,606.53 L593.00,606.48 L594.00,606.42 L595.00,606.36 L596.00,606.30 L597.00,606.24 L598.00,606.18 L599.00,606.12 L600.00,606.06 L601.00,606.00 L602.00,605.94 L603.00,605.88 L604.00,605.82 L605.00,605.76 L606.00,605.70 L607.00,605.63 L608.00,605.57 L609.00,605.51 L610.00,605.44 L611.00,605.38 L612.00,605.31 L613.00,605.25 L614.00,605.18 L615.00,605.12 L616.00,605.05 L617.00,604.99 L618.00,604.92 L619.00,604.85 L620.00,604.78 L621.00,604.72 L622.00,604.65 L623.00,604.58 L624.00,604.51 L625.00,604.44 L626.00,604.37 L627.00,604.30 L628.00,604.23 L629.00,604.16 L630.00,604.09 L631.00,604.02 L632.00,603.94 L633.00,603.87 L634.00,603.80 L635.00,603.73 L636.00,603.65 L637.00,603.58 L638.00,603.50 L639.00,603.43 L640.00,603.35 L641.00,603.28 L642.00,603.20 L643.00,603.12 L644.00,603.05 L645.00,602.97 L646.00,602.89 L647.00,602.81 L648.00,602.73 L649.00,602.66 L650.00,602.58 L651.00,602.50 L652.00,602.42 L653.00,602.34 L654.00,602.25 L655.00,602.17 L656.00,602.09 L657.00,602.01 L658.00,601.93 L659.00,601.84 L660.00,601.76 L661.00,601.67 L662.00,601.59 L663.00,601.50 L664.00,601.42 L665.00,601.33 L666.00,601.25 L667.00,601.16 L668.00,601.07 L669.00,600.98 L670.00,600.90 L671.00,600.81 L672.00,600.72 L673.00,600.63 L674.00,600.54 L675.00,600.45 L676.00,600.36 L677.00,600.27 L678.00,600.17 L679.00,600.08 L680.00,599.99 L681.00,599.90 L682.00,599.80 L683.00,599.71 L684.00,599.61 L685.00,599.52 L686.00,599.42 L687.00,599.33 L688.00,599.23 L689.00,599.13 L690.00,599.03 L691.00,598.94 L692.00,598.84 L693.00,598.74 L694.00,598.64 L695.00,598.54 L696.00,598.44 L697.00,598.34 L698.00,598.23 L699.00,598.13 L700.00,598.03 L701.00,597.93 L702.00,597.82 L703.00,597.72 L704.00,597.61 L705.00,597.51 L706.00,597.40 L707.00,597.29 L708.00,597.19 L709.00,597.08 L710.00,596.97 L711.00,596.86 L712.00,596.75 L713.00,596.64 L714.00,596.53 L715.00,596.42 L716.00,596.31 L717.00,596.20 L718.00,596.08 L719.00,595.97 L720.00,595.86 L721.00,595.74 L722.00,595.63 L723.00,595.51 L724.00,595.39 L725.00,595.28 L726.00,595.16 L727.00,595.04 L728.00,594.92 L729.00,594.80 L730.00,594.68 L731.00,594.56 L732.00,594.44 L733.00,594.32 L734.00,594.20 L735.00,594.07 L736.00,593.95 L737.00,593.83 L738.00,593.70 L739.00,593.58 L740.00,593.45 L741.00,593.32 L742.00,593.20 L743.00,593.07 L744.00,592.94 L745.00,592.81 L746.00,592.68 L747.00,592.55 L748.00,592.42 L749.00,592.28 L750.00,592.15 L751.00,592.02 L752.00,591.88 L753.00,591.75 L754.00,591.61 L755.00,591.48 L756.00,591.34 L757.00,591.20 L758.00,591.06 L759.00,590.92 L760.00,590.78 L761.00,590.64 L762.00,590.50 L763.00,590.36 L764.00,590.22 L765.00,590.07 L766.00,589.93 L767.00,589.78 L768.00,589.64 L769.00,589.49 L770.00,589.34 L771.00,589.19 L772.00,589.04 L773.00,588.90 L774.00,588.74 L775.00,588.59 L776.00,588.44 L777.00,588.29 L778.00,588.13 L779.00,587.98 L780.00,587.83 L781.00,587.67 L782.00,587.51 L783.00,587.35 L784.00,587.20 L785.00,587.04 L786.00,586.88 L787.00,586.72 L788.00,586.55 L789.00,586.39 L790.00,586.23 L791.00,586.06 L792.00,585.90 L793.00,585.73 L794.00,585.57 L795.00,585.40 L796.00,585.23 L797.00,585.06 L798.00,584.89 L799.00,584.72 L800.00,584.55 L801.00,584.37 L802.00,584.20 L803.00,584.02 L804.00,583.85 L805.00,583.67 L806.00,583.49 L807.00,583.31 L808.00,583.14 L809.00,582.95 L810.00,582.77 L811.00,582.59 L812.00,582.41 L813.00,582.22 L814.00,582.04 L815.00,581.85 L816.00,581.67 L817.00,581.48 L818.00,581.29 L819.00,581.10 L820.00,580.91 L821.00,580.72 L822.00,580.52 L823.00,580.33 L824.00,580.13 L825.00,579.94 L826.00,579.74 L827.00,579.54 L828.00,579.34 L829.00,579.14 L830.00,578.94 L831.00,578.74 L832.00,578.54 L833.00,578.33 L834.00,578.13 L835.00,577.92 L836.00,577.71 L837.00,577.50 L838.00,577.29 L839.00,577.08 L840.00,576.87 L841.00,576.66 L842.00,576.44 L843.00,576.23 L844.00,576.01 L845.00,575.80 L846.00,575.58 L847.00,575.36 L848.00,575.14 L849.00,574.91 L850.00,574.69 L851.00,574.47 L852.00,574.24 L853.00,574.01 L854.00,573.79 L855.00,573.56 L856.00,573.33 L857.00,573.10 L858.00,572.86 L859.00,572.63 L860.00,572.39 L861.00,572.16 L862.00,571.92 L863.00,571.68 L864.00,571.44 L865.00,571.20 L866.00,570.96 L867.00,570.71 L868.00,570.47 L869.00,570.22 L870.00,569.97 L871.00,569.73 L872.00,569.47 L873.00,569.22 L874.00,568.97 L875.00,568.72 L876.00,568.46 L877.00,568.20 L878.00,567.95 L879.00,567.69 L880.00,567.43 L881.00,567.16 L882.00,566.90 L883.00,566.63 L884.00,566.37 L885.00,566.10 L886.00,565.83 L887.00,565.56 L888.00,565.29 L889.00,565.02 L890.00,564.74 L891.00,564.46 L892.00,564.19 L893.00,563.91 L894.00,563.63 L895.00,563.34 L896.00,563.06 L897.00,562.78 L898.00,562.49 L899.00,562.20 L900.00,561.91 L901.00,561.62 L902.00,561.33 L903.00,561.03 L904.00,560.74 L904.40,560.62" stroke="#c9513f" stroke-width="1.7"/>
<path d="M109.74,624.79 L110.01,624.37 L110.28,623.95 L110.56,623.54 L110.83,623.12 L111.10,622.70 L111.38,622.29 L111.65,621.87 L111.92,621.45 L112.19,621.04 L112.47,620.62 L112.74,620.20 L113.01,619.79 L113.28,619.37 L113.56,618.95 L113.83,618.53 L114.10,618.12 L114.37,617.70 L114.64,617.28 L114.91,616.86 L115.18,616.44 L115.46,616.02 L115.73,615.61 L116.00,615.19 L116.27,614.77 L116.54,614.35 L116.81,613.93 L117.08,613.51 L117.35,613.09 L117.62,612.67 L117.89,612.26 L118.16,611.84 L118.43,611.42 L118.70,611.00 L118.97,610.58 L119.24,610.16 L119.51,609.74 L119.78,609.32 L120.04,608.90 L120.31,608.48 L120.58,608.06 L120.85,607.64 L121.12,607.22 L121.39,606.80 L121.66,606.38 L121.93,605.95 L122.19,605.53 L122.46,605.11 L122.73,604.69 L123.00,604.27 L123.27,603.85 L123.53,603.43 L123.80,603.01 L124.07,602.59 L124.34,602.17 L124.60,601.74 L124.87,601.32 L125.14,600.90 L125.41,600.48 L125.67,600.06 L125.94,599.63 L126.21,599.21 L126.47,598.79 L126.74,598.37 L127.01,597.95 L127.27,597.52 L127.54,597.10 L127.81,596.68 L128.07,596.26 L128.34,595.83 L128.61,595.41 L128.87,594.99 L129.14,594.57 L129.40,594.14 L129.67,593.72 L129.94,593.30 L130.20,592.88 L130.47,592.45 L130.73,592.03 L131.00,591.61 L131.27,591.18 L131.53,590.76 L131.80,590.34 L132.06,589.91 L132.33,589.49 L132.59,589.07 L132.86,588.64 L133.12,588.22 L133.39,587.79 L133.65,587.37 L133.92,586.95 L134.18,586.52 L134.45,586.10 L134.71,585.68 L134.98,585.25 L135.24,584.83 L135.51,584.40 L135.77,583.98 L136.04,583.55 L136.30,583.13 L136.57,582.71 L136.83,582.28 L137.09,581.86 L137.36,581.43 L137.62,581.01 L137.89,580.58 L138.15,580.16 L138.42,579.74 L138.68,579.31 L138.94,578.89 L139.21,578.46 L139.47,578.04 L139.74,577.61 L140.00,577.19 L140.27,576.76 L140.53,576.34 L140.79,575.91 L141.06,575.49 L141.32,575.06 L141.58,574.64 L141.85,574.21 L142.11,573.79 L142.38,573.36 L142.64,572.94 L142.90,572.51 L143.17,572.09 L143.43,571.66 L143.70,571.24 L143.96,570.81 L144.22,570.39 L144.49,569.96 L144.75,569.54 L145.01,569.11 L145.28,568.69 L145.54,568.26 L145.81,567.84 L146.07,567.41 L146.33,566.98 L146.60,566.56 L146.86,566.13 L147.12,565.71 L147.39,565.28 L147.65,564.86 L147.91,564.43 L148.18,564.01 L148.44,563.58 L148.71,563.16 L148.97,562.73 L149.23,562.30 L149.50,561.88 L149.76,561.45 L150.02,561.03 L150.29,560.60 L150.55,560.18 L150.82,559.75 L151.08,559.33 L151.34,558.90 L151.61,558.48 L151.87,558.05 L152.13,557.62 L152.40,557.20 L152.66,556.77 L152.93,556.35 L153.19,555.92 L153.45,555.50 L153.72,555.07 L153.98,554.65 L154.25,554.22 L154.51,553.80 L154.77,553.37 L155.04,552.95 L155.30,552.52 L155.57,552.09 L155.83,551.67 L156.09,551.24 L156.36,550.82 L156.62,550.39 L156.89,549.97 L157.15,549.54 L157.42,549.12 L157.68,548.69 L157.94,548.27 L158.21,547.84 L158.47,547.42 L158.74,546.99 L159.00,546.57 L159.27,546.14 L159.53,545.72 L159.80,545.29 L160.06,544.87 L160.33,544.44 L160.59,544.02 L160.86,543.59 L161.12,543.17 L161.39,542.74 L161.65,542.32 L161.92,541.89 L162.18,541.47 L162.45,541.04 L162.71,540.62 L162.98,540.19 L163.24,539.77 L163.51,539.34 L163.77,538.92 L164.04,538.49 L164.31,538.07 L164.57,537.65 L164.84,537.22 L165.10,536.80 L165.37,536.37 L165.63,535.95 L165.90,535.52 L166.17,535.10 L166.43,534.68 L166.70,534.25 L166.97,533.83 L167.23,533.40 L167.50,532.98 L167.76,532.56 L168.03,532.13 L168.30,531.71 L168.57,531.28 L168.83,530.86 L169.10,530.44 L169.37,530.01 L169.63,529.59 L169.90,529.17 L170.17,528.74 L170.44,528.32 L170.70,527.90 L170.97,527.47 L171.24,527.05 L171.51,526.63 L171.77,526.20 L172.04,525.78 L172.31,525.36 L172.58,524.94 L172.85,524.51 L173.11,524.09 L173.38,523.67 L173.65,523.25 L173.92,522.82 L174.19,522.40 L174.46,521.98 L174.73,521.56 L174.99,521.13 L175.26,520.71 L175.53,520.29 L175.80,519.87 L176.07,519.45 L176.34,519.02 L176.61,518.60 L176.88,518.18 L177.15,517.76 L177.42,517.34 L177.69,516.92 L177.96,516.49 L178.23,516.07 L178.50,515.65 L178.77,515.23 L179.04,514.81 L179.31,514.39 L179.58,513.97 L179.86,513.55 L180.13,513.13 L180.40,512.71 L180.67,512.28 L180.94,511.86 L181.21,511.44 L181.48,511.02 L181.76,510.60 L182.03,510.18 L182.30,509.76 L182.57,509.34 L182.84,508.92 L183.12,508.50 L183.39,508.08 L183.66,507.66 L183.94,507.25 L184.21,506.83 L184.48,506.41 L184.76,505.99 L185.03,505.57 L185.30,505.15 L185.58,504.73 L185.85,504.31 L186.12,503.89 L186.40,503.48 L186.67,503.06 L186.95,502.64 L187.22,502.22 L187.50,501.80 L187.77,501.38 L188.05,500.97 L188.32,500.55 L188.60,500.13 L188.87,499.71 L189.15,499.30 L189.43,498.88 L189.70,498.46 L189.98,498.04 L190.25,497.63 L190.53,497.21 L190.81,496.79 L191.08,496.38 L191.36,495.96 L191.64,495.54 L191.92,495.13 L192.19,494.71 L192.47,494.30 L192.75,493.88 L193.03,493.46 L193.30,493.05 L193.58,492.63 L193.86,492.22 L194.14,491.80 L194.42,491.39 L194.70,490.97 L194.98,490.56 L195.26,490.14 L195.54,489.73 L195.82,489.31 L196.10,488.90 L196.38,488.49 L196.66,488.07 L196.94,487.66 L197.22,487.24 L197.50,486.83 L197.78,486.42 L198.06,486.00 L198.34,485.59 L198.62,485.18 L198.91,484.76 L199.19,484.35 L199.47,483.94 L199.75,483.53 L200.03,483.11 L200.32,482.70 L200.60,482.29 L200.88,481.88 L201.17,481.47 L201.45,481.05 L201.73,480.64 L202.02,480.23 L202.30,479.82 L202.59,479.41 L202.87,479.00 L203.16,478.59 L203.44,478.18 L203.73,477.77 L204.01,477.36 L204.30,476.95 L204.58,476.54 L204.87,476.13 L205.16,475.72 L205.44,475.31 L205.73,474.90 L206.02,474.49 L206.30,474.08 L206.59,473.67 L206.88,473.26 L207.16,472.85 L207.45,472.45 L207.74,472.04 L208.03,471.63 L208.32,471.22 L208.61,470.81 L208.90,470.41 L209.19,470.00 L209.47,469.59 L209.76,469.19 L210.05,468.78 L210.34,468.37 L210.64,467.97 L210.93,467.56 L211.22,467.15 L211.51,466.75 L211.80,466.34 L212.09,465.94 L212.38,465.53 L212.68,465.12 L212.97,464.72 L213.26,464.31 L213.55,463.91 L213.85,463.51 L214.14,463.10 L214.43,462.70 L214.73,462.29 L215.02,461.89 L215.32,461.49 L215.61,461.08 L215.90,460.68 L216.20,460.28 L216.49,459.87 L216.79,459.47 L217.09,459.07 L217.38,458.67 L217.68,458.26 L217.98,457.86 L218.27,457.46 L218.57,457.06 L218.87,456.66 L219.16,456.26 L219.46,455.86 L219.76,455.46 L220.06,455.05 L220.36,454.65 L220.66,454.25 L220.96,453.85 L221.25,453.45 L221.55,453.06 L221.85,452.66 L222.15,452.26 L222.46,451.86 L222.76,451.46 L223.06,451.06 L223.36,450.66 L223.66,450.26 L223.96,449.87 L224.26,449.47 L224.57,449.07 L224.87,448.67 L225.17,448.28 L225.48,447.88 L225.78,447.48 L226.08,447.09 L226.39,446.69 L226.69,446.30 L227.00,445.90 L227.30,445.50 L227.61,445.11 L227.91,444.71 L228.22,444.32 L228.52,443.92 L228.83,443.53 L229.14,443.14 L229.44,442.74 L229.75,442.35 L230.06,441.96 L230.37,441.56 L230.68,441.17 L230.98,440.78 L231.29,440.38 L231.60,439.99 L231.91,439.60 L232.22,439.21 L232.53,438.82 L232.84,438.42 L233.15,438.03 L233.46,437.64 L233.77,437.25 L234.09,436.86 L234.40,436.47 L234.71,436.08 L235.02,435.69 L235.33,435.30 L235.65,434.91 L235.96,434.52 L236.27,434.13 L236.59,433.74 L236.90,433.35 L237.21,432.97 L237.53,432.58 L237.84,432.19 L238.16,431.80 L238.47,431.41 L238.79,431.03 L239.10,430.64 L239.42,430.25 L239.74,429.86 L240.05,429.48 L240.37,429.09 L240.69,428.70 L241.00,428.32 L241.32,427.93 L241.64,427.55 L241.96,427.16 L242.27,426.78 L242.59,426.39 L242.91,426.01 L243.23,425.62 L243.55,425.24 L243.87,424.85 L244.19,424.47 L244.51,424.08 L244.83,423.70 L245.15,423.31 L245.47,422.93 L245.79,422.55 L246.11,422.16 L246.43,421.78 L246.75,421.40 L247.07,421.01 L247.39,420.63 L247.71,420.25 L248.04,419.87 L248.36,419.49 L248.68,419.10 L249.00,418.72 L249.32,418.34 L249.65,417.96 L249.97,417.58 L250.29,417.20 L250.62,416.81 L250.94,416.43 L251.26,416.05 L251.59,415.67 L251.91,415.29 L252.24,414.91 L252.56,414.53 L252.89,414.15 L253.21,413.77 L253.54,413.39 L253.86,413.01 L254.19,412.63 L254.51,412.25 L254.84,411.87 L255.16,411.49 L255.49,411.12 L255.82,410.74 L256.14,410.36 L256.47,409.98 L256.80,409.60 L257.12,409.22 L257.45,408.84 L257.78,408.47 L258.10,408.09 L258.43,407.71 L258.76,407.33 L259.09,406.96 L259.41,406.58 L259.74,406.20 L260.07,405.82 L260.40,405.45 L260.73,405.07 L261.05,404.69 L261.38,404.32 L261.71,403.94 L262.04,403.56 L262.37,403.19 L262.70,402.81 L263.03,402.44 L263.36,402.06 L263.69,401.68 L264.02,401.31 L264.35,400.93 L264.68,400.56 L265.01,400.18 L265.34,399.81 L265.67,399.43 L266.00,399.06 L266.33,398.68 L266.66,398.31 L266.99,397.93 L267.32,397.56 L267.65,397.18 L267.98,396.81 L268.31,396.43 L268.64,396.06 L268.97,395.68 L269.31,395.31 L269.64,394.94 L269.97,394.56 L270.30,394.19 L270.63,393.81 L270.96,393.44 L271.29,393.07 L271.63,392.69 L271.96,392.32 L272.29,391.95 L272.62,391.57 L272.95,391.20 L273.29,390.83 L273.62,390.45 L273.95,390.08 L274.28,389.71 L274.62,389.33 L274.95,388.96 L275.28,388.59 L275.61,388.22 L275.95,387.84 L276.28,387.47 L276.61,387.10 L276.94,386.73 L277.28,386.35 L277.61,385.98 L277.94,385.61 L278.28,385.24 L278.61,384.86 L278.94,384.49 L279.28,384.12 L279.61,383.75 L279.94,383.38 L280.27,383.00 L280.61,382.63 L280.94,382.26 L281.27,381.89 L281.61,381.52 L281.94,381.15 L282.27,380.77 L282.61,380.40 L282.94,380.03 L283.27,379.66 L283.61,379.29 L283.94,378.92 L284.28,378.55 L284.61,378.17 L284.94,377.80 L285.28,377.43 L285.61,377.06 L285.94,376.69 L286.28,376.32 L286.61,375.95 L286.94,375.58 L287.28,375.21 L287.61,374.83 L287.94,374.46 L288.28,374.09 L288.61,373.72 L288.94,373.35 L289.28,372.98 L289.61,372.61 L289.94,372.24 L290.28,371.87 L290.61,371.50 L290.94,371.13 L291.28,370.75 L291.61,370.38 L291.94,370.01 L292.28,369.64 L292.61,369.27 L292.95,368.90 L293.28,368.53 L293.62,368.17 L293.95,367.80 L294.29,367.43 L294.62,367.06 L294.96,366.69 L295.30,366.33 L295.63,365.96 L295.97,365.59 L296.31,365.23 L296.65,364.86 L296.99,364.50 L297.33,364.14 L297.67,363.77 L298.01,363.41 L298.35,363.05 L298.70,362.69 L299.04,362.33 L299.39,361.97 L299.73,361.61 L300.08,361.26 L300.43,360.90 L300.78,360.54 L301.13,360.19 L301.48,359.84 L301.83,359.49 L302.18,359.14 L302.54,358.79 L302.90,358.44 L303.25,358.09 L303.61,357.75 L303.97,357.40 L304.33,357.06 L304.70,356.72 L305.06,356.38 L305.43,356.04 L305.79,355.70 L306.16,355.37 L306.53,355.03 L306.90,354.70 L307.28,354.37 L307.65,354.04 L308.03,353.71 L308.41,353.38 L308.79,353.06 L309.17,352.74 L309.56,352.42 L309.95,352.10 L310.33,351.78 L310.72,351.47 L311.12,351.15 L311.51,350.84 L311.91,350.53 L312.30,350.22 L312.70,349.92 L313.11,349.62 L313.51,349.32 L313.91,349.02 L314.32,348.72 L314.73,348.43 L315.14,348.13 L315.55,347.84 L315.96,347.56 L316.38,347.27 L316.80,346.99 L317.22,346.71 L317.64,346.43 L318.06,346.16 L318.48,345.88 L318.91,345.61 L319.33,345.35 L319.76,345.08 L320.19,344.82 L320.62,344.56 L321.05,344.30 L321.49,344.05 L321.92,343.80 L322.36,343.55 L322.80,343.30 L323.24,343.06 L323.68,342.82 L324.12,342.58 L324.57,342.35 L325.01,342.12 L325.46,341.89 L325.90,341.67 L326.35,341.44 L326.80,341.23 L327.26,341.01 L327.71,340.80 L328.16,340.59 L328.62,340.38 L329.07,340.18 L329.53,339.98 L329.99,339.79 L330.45,339.60 L330.91,339.41 L331.37,339.22 L331.83,339.04 L332.30,338.86 L332.76,338.68 L333.23,338.51 L333.69,338.33 L334.16,338.16 L334.63,338.00 L335.09,337.83 L335.56,337.66 L336.03,337.50 L336.50,337.34 L336.97,337.18 L337.44,337.02 L337.91,336.86 L338.38,336.70 L338.85,336.54 L339.32,336.38 L339.79,336.23 L340.25,336.07 L340.72,335.91 L341.19,335.75 L341.66,335.60 L342.13,335.44 L342.60,335.28 L343.06,335.12 L343.53,334.96 L344.00,334.79 L344.46,334.63 L344.93,334.47 L345.39,334.30 L345.86,334.13 L346.32,333.96 L346.78,333.78 L347.24,333.61 L347.70,333.43 L348.16,333.25 L348.61,333.07 L349.07,332.88 L349.52,332.69 L349.98,332.50 L350.43,332.30 L350.88,332.10 L351.32,331.90 L351.77,331.69 L352.22,331.48 L352.66,331.26 L353.10,331.04 L353.54,330.82 L353.98,330.59 L354.41,330.35 L354.85,330.11 L355.28,329.87 L355.71,329.61 L356.14,329.36 L356.56,329.10 L356.98,328.83 L357.40,328.56 L357.82,328.28 L358.24,327.99 L358.65,327.70 L359.06,327.40 L359.47,327.10 L359.87,326.79 L360.28,326.47 L360.68,326.15 L361.08,325.83 L361.48,325.51 L361.88,325.18 L362.27,324.84 L362.67,324.51 L363.06,324.17 L363.45,323.82 L363.84,323.48 L364.24,323.13 L364.63,322.79 L365.02,322.44 L365.40,322.09 L365.79,321.74 L366.18,321.38 L366.57,321.03 L366.96,320.68 L367.35,320.33 L367.73,319.98 L368.12,319.63 L368.51,319.28 L368.90,318.93 L369.29,318.59 L369.68,318.25 L370.08,317.91 L370.47,317.57 L370.86,317.23 L371.26,316.90 L371.65,316.57 L372.05,316.25 L372.45,315.93 L372.85,315.61 L373.25,315.29 L373.65,314.97 L374.05,314.66 L374.45,314.35 L374.86,314.05 L375.26,313.75 L375.67,313.45 L376.07,313.15 L376.48,312.86 L376.89,312.56 L377.30,312.28 L377.71,311.99 L378.12,311.71 L378.53,311.43 L378.94,311.16 L379.36,310.88 L379.77,310.61 L380.19,310.35 L380.61,310.08 L381.02,309.82 L381.44,309.56 L381.86,309.31 L382.28,309.06 L382.70,308.81 L383.12,308.56 L383.55,308.32 L383.97,308.08 L384.39,307.85 L384.82,307.62 L385.24,307.39 L385.67,307.16 L386.10,306.94 L386.53,306.72 L386.96,306.50 L387.39,306.29 L387.82,306.08 L388.25,305.87 L388.68,305.66 L389.11,305.46 L389.55,305.27 L389.98,305.07 L390.42,304.88 L390.85,304.69 L391.29,304.51 L391.73,304.33 L392.17,304.15 L392.60,303.98 L393.04,303.80 L393.49,303.64 L393.93,303.47 L394.37,303.31 L394.81,303.15 L395.25,302.99 L395.70,302.84 L396.14,302.69 L396.59,302.53 L397.04,302.38 L397.48,302.23 L397.93,302.08 L398.38,301.92 L398.83,301.77 L399.28,301.61 L399.73,301.45 L400.18,301.28 L400.63,301.12 L401.08,300.95 L401.53,300.77 L401.99,300.59 L402.44,300.41 L402.90,300.22 L403.35,300.02 L403.81,299.82 L404.26,299.61 L404.72,299.39 L405.18,299.16 L405.64,298.93 L406.09,298.68 L406.55,298.43 L407.01,298.17 L407.47,297.91 L407.93,297.64 L408.40,297.37 L408.86,297.09 L409.32,296.81 L409.78,296.53 L410.25,296.24 L410.71,295.96 L411.18,295.67 L411.64,295.39 L412.11,295.10 L412.57,294.82 L413.04,294.55 L413.51,294.27 L413.98,294.00 L414.44,293.74 L414.91,293.48 L415.38,293.23 L415.85,292.99 L416.32,292.75 L416.79,292.53 L417.26,292.31 L417.74,292.10 L418.21,291.90 L418.68,291.71 L419.15,291.52 L419.63,291.35 L420.10,291.18 L420.57,291.02 L421.05,290.86 L421.52,290.72 L422.00,290.58 L422.47,290.45 L422.95,290.33 L423.43,290.22 L423.90,290.11 L424.38,290.01 L424.86,289.92 L425.34,289.83 L425.81,289.75 L426.29,289.68 L426.77,289.61 L427.25,289.55 L427.73,289.50 L428.21,289.45 L428.69,289.41 L429.17,289.38 L429.65,289.35 L430.13,289.32 L430.62,289.31 L431.10,289.30 L431.58,289.29 L432.06,289.29 L432.55,289.29 L433.03,289.30 L433.51,289.32 L434.00,289.33 L434.48,289.35 L434.96,289.38 L435.45,289.40 L435.93,289.43 L436.42,289.45 L436.90,289.48 L437.39,289.51 L437.87,289.53 L438.36,289.56 L438.85,289.58 L439.33,289.60 L439.82,289.62 L440.30,289.63 L440.79,289.64 L441.28,289.64 L441.77,289.64 L442.25,289.63 L442.74,289.61 L443.23,289.59 L443.72,289.56 L444.20,289.52 L444.69,289.48 L445.18,289.43 L445.67,289.36 L446.16,289.30 L446.65,289.22 L447.14,289.14 L447.63,289.05 L448.11,288.95 L448.60,288.85 L449.09,288.75 L449.58,288.64 L450.07,288.52 L450.56,288.40 L451.05,288.27 L451.54,288.14 L452.03,288.01 L452.52,287.87 L453.02,287.73 L453.51,287.58 L454.00,287.43 L454.49,287.28 L454.98,287.13 L455.47,286.97 L455.96,286.82 L456.45,286.66 L456.95,286.50 L457.44,286.33 L457.93,286.17 L458.42,286.01 L458.91,285.85 L459.41,285.68 L459.90,285.52 L460.39,285.36 L460.88,285.19 L461.38,285.03 L461.87,284.87 L462.36,284.71 L462.86,284.56 L463.35,284.40 L463.84,284.25 L464.33,284.10 L464.83,283.95 L465.32,283.81 L465.82,283.67 L466.31,283.53 L466.80,283.40 L467.30,283.27 L467.79,283.14 L468.28,283.02 L468.78,282.91 L469.27,282.80 L469.77,282.69 L470.26,282.59 L470.76,282.50 L471.25,282.41 L471.75,282.33 L472.24,282.26 L472.73,282.19 L473.23,282.14 L473.72,282.08 L474.22,282.04 L474.71,282.01 L475.21,281.98 L475.70,281.96 L476.20,281.95 L476.70,281.95 L477.19,281.96 L477.69,281.97 L478.18,282.00 L478.68,282.03 L479.17,282.06 L479.67,282.10 L480.16,282.15 L480.66,282.20 L481.16,282.25 L481.65,282.31 L482.15,282.37 L482.64,282.43 L483.14,282.49 L483.63,282.55 L484.13,282.61 L484.63,282.68 L485.12,282.74 L485.62,282.79 L486.11,282.85 L486.61,282.90 L487.11,282.95 L487.60,282.99 L488.10,283.03 L488.60,283.06 L489.09,283.09 L489.59,283.11 L490.08,283.12 L490.58,283.12 L491.08,283.12 L491.57,283.10 L492.07,283.08 L492.57,283.04 L493.06,283.00 L493.56,282.94 L494.06,282.88 L494.55,282.81 L495.05,282.73 L495.54,282.64 L496.04,282.55 L496.54,282.45 L497.03,282.35 L497.53,282.24 L498.03,282.13 L498.52,282.02 L499.02,281.90 L499.52,281.78 L500.01,281.66 L500.51,281.54 L501.00,281.42 L501.50,281.30 L502.00,281.18 L502.49,281.06 L502.99,280.95 L503.49,280.83 L503.98,280.72 L504.48,280.62 L504.97,280.52 L505.47,280.43 L505.97,280.34 L506.46,280.26 L506.96,280.18 L507.45,280.12 L507.95,280.06 L508.45,280.01 L508.94,279.97 L509.44,279.94 L509.93,279.92 L510.43,279.91 L510.92,279.90 L511.42,279.90 L511.92,279.91 L512.41,279.92 L512.91,279.94 L513.40,279.96 L513.90,279.99 L514.39,280.02 L514.89,280.06 L515.38,280.10 L515.88,280.14 L516.37,280.18 L516.87,280.22 L517.36,280.27 L517.86,280.32 L518.35,280.36 L518.85,280.41 L519.34,280.46 L519.84,280.50 L520.33,280.55 L520.82,280.59 L521.32,280.63 L521.81,280.66 L522.31,280.70 L522.80,280.72 L523.30,280.75 L523.79,280.77 L524.28,280.78 L524.78,280.79 L525.27,280.79 L525.76,280.79 L526.26,280.77 L526.75,280.75 L527.24,280.73 L527.74,280.69 L528.23,280.64 L528.72,280.59 L529.22,280.53 L529.71,280.46 L530.20,280.38 L530.69,280.30 L531.19,280.21 L531.68,280.12 L532.17,280.03 L532.66,279.93 L533.15,279.84 L533.65,279.74 L534.14,279.64 L534.63,279.55 L535.12,279.45 L535.61,279.36 L536.10,279.27 L536.59,279.19 L537.09,279.11 L537.58,279.04 L538.07,278.97 L538.56,278.91 L539.05,278.87 L539.54,278.83 L540.03,278.80 L540.52,278.78 L541.01,278.77 L541.50,278.77 L541.99,278.78 L542.48,278.80 L542.97,278.83 L543.46,278.87 L543.94,278.91 L544.43,278.96 L544.92,279.02 L545.41,279.08 L545.90,279.15 L546.39,279.22 L546.88,279.30 L547.36,279.39 L547.85,279.47 L548.34,279.56 L548.83,279.66 L549.31,279.75 L549.80,279.85 L550.29,279.95 L550.77,280.05 L551.26,280.15 L551.75,280.24 L552.23,280.34 L552.72,280.44 L553.21,280.54 L553.69,280.63 L554.18,280.72 L554.66,280.81 L555.15,280.90 L555.63,280.98 L556.12,281.06 L556.60,281.13 L557.09,281.20 L557.57,281.26 L558.05,281.31 L558.54,281.36 L559.02,281.40 L559.50,281.43 L559.99,281.46 L560.47,281.48 L560.95,281.49 L561.44,281.49 L561.92,281.48 L562.40,281.46 L562.88,281.43 L563.36,281.39 L563.84,281.34 L564.32,281.28 L564.80,281.20 L565.27,281.12 L565.75,281.02 L566.23,280.91 L566.71,280.79 L567.18,280.65 L567.66,280.50 L568.13,280.34 L568.60,280.16 L569.08,279.97 L569.55,279.76 L570.02,279.54 L570.49,279.31 L570.96,279.07 L571.42,278.83 L571.89,278.58 L572.36,278.33 L572.82,278.08 L573.29,277.84 L573.75,277.60 L574.21,277.37 L574.67,277.15 L575.13,276.95 L575.59,276.76 L576.05,276.58 L576.50,276.43 L576.96,276.30 L577.41,276.19 L577.86,276.11 L578.31,276.06 L578.76,276.04 L579.21,276.05 L579.66,276.08 L580.10,276.14 L580.55,276.23 L580.99,276.34 L581.43,276.47 L581.87,276.63 L582.31,276.81 L582.75,277.00 L583.19,277.22 L583.63,277.45 L584.06,277.70 L584.50,277.97 L584.93,278.25 L585.37,278.55 L585.80,278.85 L586.24,279.17 L586.67,279.50 L587.10,279.84 L587.53,280.19 L587.96,280.54 L588.39,280.90 L588.82,281.27 L589.25,281.64 L589.68,282.01 L590.11,282.39 L590.54,282.76 L590.97,283.14 L591.40,283.51 L591.83,283.89 L592.26,284.26 L592.68,284.62 L593.11,284.98 L593.54,285.33 L593.97,285.68 L594.40,286.02 L594.83,286.35 L595.26,286.67 L595.69,286.98 L596.12,287.28 L596.55,287.56 L596.98,287.83 L597.41,288.09 L597.85,288.33 L598.28,288.56 L598.71,288.76 L599.15,288.95 L599.58,289.12 L600.02,289.27 L600.45,289.40 L600.89,289.51 L601.33,289.59 L601.77,289.65 L602.20,289.70 L602.64,289.72 L603.09,289.72 L603.53,289.71 L603.97,289.68 L604.41,289.63 L604.86,289.57 L605.30,289.49 L605.75,289.39 L606.20,289.28 L606.64,289.16 L607.09,289.03 L607.54,288.88 L607.99,288.73 L608.44,288.56 L608.89,288.38 L609.34,288.20 L609.80,288.01 L610.25,287.81 L610.70,287.60 L611.16,287.39 L611.61,287.17 L612.07,286.95 L612.53,286.72 L612.98,286.49 L613.44,286.26 L613.90,286.03 L614.36,285.80 L614.82,285.57 L615.28,285.33 L615.75,285.10 L616.21,284.88 L616.67,284.65 L617.14,284.43 L617.60,284.21 L618.07,284.00 L618.53,283.80 L619.00,283.60 L619.46,283.41 L619.93,283.23 L620.40,283.06 L620.87,282.90 L621.34,282.75 L621.81,282.61 L622.28,282.49 L622.75,282.38 L623.22,282.28 L623.70,282.20 L624.17,282.13 L624.64,282.08 L625.12,282.05 L625.59,282.04 L626.07,282.05 L626.55,282.07 L627.02,282.12 L627.50,282.19 L627.98,282.28 L628.46,282.40 L628.94,282.54 L629.42,282.70 L629.90,282.89 L630.38,283.11 L630.86,283.34 L631.34,283.59 L631.82,283.85 L632.31,284.13 L632.79,284.40 L633.27,284.68 L633.76,284.95 L634.24,285.21 L634.73,285.46 L635.21,285.69 L635.70,285.91 L636.19,286.10 L636.67,286.26 L637.16,286.39 L637.65,286.50 L638.14,286.59 L638.63,286.65 L639.12,286.70 L639.61,286.72 L640.10,286.73 L640.59,286.71 L641.08,286.69 L641.57,286.65 L642.07,286.60 L642.56,286.54 L643.05,286.47 L643.54,286.39 L644.04,286.30 L644.53,286.21 L645.03,286.12 L645.52,286.03 L646.02,285.93 L646.51,285.84 L647.01,285.75 L647.51,285.66 L648.01,285.57 L648.50,285.48 L649.00,285.40 L649.50,285.32 L650.00,285.24 L650.50,285.16 L651.00,285.09 L651.50,285.02 L652.00,284.96 L652.50,284.90 L653.00,284.84 L653.50,284.79 L654.00,284.74 L654.50,284.70 L655.00,284.67 L655.50,284.64 L656.01,284.61 L656.51,284.59 L657.01,284.58 L657.52,284.58 L658.02,284.58 L658.52,284.58 L659.03,284.60 L659.53,284.62 L660.04,284.65 L660.54,284.68 L661.05,284.71 L661.55,284.75 L662.06,284.79 L662.56,284.83 L663.06,284.87 L663.57,284.91 L664.07,284.96 L664.57,285.00 L665.07,285.04 L665.58,285.08 L666.08,285.11 L666.58,285.14 L667.08,285.17 L667.58,285.19 L668.07,285.20 L668.57,285.21 L669.07,285.21 L669.56,285.21 L670.06,285.19 L670.55,285.16 L671.04,285.13 L671.53,285.08 L672.02,285.03 L672.50,284.96 L672.99,284.88 L673.47,284.78 L673.96,284.67 L674.44,284.55 L674.92,284.41 L675.39,284.27 L675.87,284.13 L676.34,283.98 L676.82,283.85 L677.28,283.73 L677.75,283.62 L678.22,283.54 L678.68,283.49 L679.14,283.47 L679.60,283.49 L680.06,283.55 L680.51,283.65 L680.96,283.80 L681.41,283.97 L681.85,284.19 L682.30,284.43 L682.74,284.69 L683.18,284.98 L683.61,285.28 L684.04,285.60 L684.47,285.92 L684.90,286.25 L685.32,286.58 L685.74,286.92 L686.15,287.24 L686.57,287.56 L686.98,287.87 L687.38,288.18 L687.79,288.49 L688.19,288.79 L688.59,289.08 L688.98,289.38 L689.38,289.67 L689.77,289.96 L690.16,290.25 L690.55,290.54 L690.94,290.84 L691.33,291.13 L691.72,291.42 L692.10,291.72 L692.48,292.02 L692.87,292.33 L693.25,292.63 L693.63,292.95 L694.02,293.27 L694.40,293.59 L694.78,293.93 L695.17,294.27 L695.55,294.62 L695.94,294.98 L696.32,295.34 L696.71,295.72 L697.10,296.10 L697.48,296.49 L697.88,296.87 L698.27,297.26 L698.66,297.65 L699.06,298.04 L699.46,298.42 L699.86,298.80 L700.26,299.17 L700.66,299.53 L701.07,299.88 L701.48,300.22 L701.90,300.55 L702.31,300.86 L702.73,301.15 L703.16,301.43 L703.59,301.68 L704.02,301.91 L704.45,302.12 L704.90,302.30 L705.34,302.46 L705.79,302.58 L706.24,302.68 L706.70,302.75 L707.16,302.78 L707.63,302.79 L708.10,302.78 L708.58,302.74 L709.06,302.68 L709.54,302.60 L710.02,302.51 L710.51,302.39 L711.00,302.27 L711.49,302.14 L711.99,301.99 L712.48,301.85 L712.98,301.69 L713.48,301.53 L713.98,301.38 L714.48,301.22 L714.99,301.07 L715.49,300.92 L715.99,300.79 L716.49,300.66 L716.99,300.54 L717.50,300.44 L718.00,300.35 L718.49,300.28 L718.99,300.23 L719.49,300.20 L719.98,300.20 L720.47,300.22 L720.96,300.27 L721.45,300.34 L721.94,300.43 L722.42,300.54 L722.90,300.66 L723.38,300.80 L723.86,300.94 L724.34,301.10 L724.81,301.25 L725.28,301.41 L725.76,301.56 L726.23,301.71 L726.69,301.85 L727.16,301.99 L727.63,302.11 L728.09,302.21 L728.56,302.30 L729.02,302.36 L729.48,302.40 L729.95,302.42 L730.41,302.40 L730.87,302.36 L731.33,302.29 L731.79,302.20 L732.25,302.09 L732.70,301.96 L733.16,301.81 L733.62,301.64 L734.08,301.47 L734.54,301.27 L734.99,301.07 L735.45,300.87 L735.91,300.65 L736.37,300.43 L736.83,300.21 L737.28,299.98 L737.74,299.76 L738.20,299.53 L738.66,299.29 L739.13,299.06 L739.59,298.83 L740.05,298.60 L740.51,298.37 L740.98,298.15 L741.44,297.93 L741.91,297.71 L742.38,297.49 L742.85,297.29 L743.32,297.08 L743.79,296.89 L744.26,296.70 L744.74,296.52 L745.22,296.35 L745.69,296.19 L746.18,296.03 L746.66,295.89 L747.14,295.76 L747.63,295.65 L748.12,295.54 L748.61,295.45 L749.10,295.38 L749.59,295.32 L750.09,295.27 L750.59,295.24 L751.09,295.22 L751.58,295.22 L752.08,295.23 L752.58,295.25 L753.08,295.29 L753.58,295.34 L754.07,295.41 L754.57,295.48 L755.06,295.57 L755.55,295.68 L756.04,295.79 L756.52,295.92 L757.00,296.06 L757.47,296.21 L757.94,296.38 L758.41,296.55 L758.87,296.74 L759.33,296.94 L759.78,297.15 L760.22,297.37 L760.65,297.60 L761.08,297.84 L761.51,298.09 L761.92,298.36 L762.32,298.63 L762.72,298.91 L763.11,299.21 L763.49,299.51 L763.87,299.82 L764.24,300.14 L764.60,300.48 L764.96,300.82 L765.31,301.17 L765.66,301.52 L766.00,301.89 L766.35,302.26 L766.69,302.65 L767.03,303.04 L767.36,303.44 L767.70,303.84 L768.04,304.26 L768.38,304.68 L768.72,305.11 L769.06,305.54 L769.40,305.99 L769.75,306.44 L770.10,306.89 L770.45,307.35 L770.80,307.81 L771.16,308.27 L771.52,308.72 L771.89,309.16 L772.25,309.60 L772.62,310.02 L772.98,310.42 L773.35,310.81 L773.72,311.17 L774.09,311.51 L774.46,311.82 L774.83,312.10 L775.20,312.34 L775.57,312.55 L775.94,312.72 L776.31,312.85 L776.67,312.94 L777.04,312.97 L777.40,312.96 L777.76,312.90 L778.12,312.78 L778.47,312.62 L778.82,312.42 L779.17,312.18 L779.52,311.91 L779.86,311.60 L780.20,311.26 L780.53,310.89 L780.86,310.50 L781.19,310.08 L781.51,309.65 L781.82,309.20 L782.13,308.74 L782.44,308.28 L782.73,307.80 L783.03,307.32 L783.31,306.85 L783.59,306.37 L783.86,305.89 L784.13,305.41 L784.38,304.93 L784.64,304.45 L784.89,303.96 L785.13,303.48 L785.36,303.00 L785.59,302.52 L785.82,302.03 L786.04,301.55 L786.25,301.07 L786.46,300.58 L786.67,300.10 L786.87,299.61 L787.06,299.13 L787.25,298.64 L787.43,298.16 L787.61,297.67 L787.79,297.18 L787.96,296.70 L788.13,296.21 L788.29,295.73 L788.45,295.24 L788.60,294.75 L788.76,294.27 L788.90,293.78 L789.05,293.29 L789.19,292.81 L789.32,292.32 L789.46,291.83 L789.59,291.35 L789.71,290.86 L789.84,290.37 L789.96,289.89 L790.07,289.40 L790.19,288.92 L790.30,288.43 L790.41,287.95 L790.52,287.46 L790.62,286.98 L790.73,286.49 L790.83,286.01 L790.93,285.53 L791.02,285.04 L791.12,284.56 L791.21,284.08 L791.30,283.60 L791.39,283.11 L791.48,282.63 L791.57,282.15 L791.66,281.67 L791.74,281.19 L791.83,280.71 L791.91,280.24 L791.99,279.76 L792.07,279.28 L792.15,278.80 L792.23,278.33 L792.31,277.85 L792.39,277.38 L792.47,276.91 L792.55,276.43 L792.63,275.96 L792.71,275.49 L792.79,275.02 L792.87,274.55 L792.95,274.08 L793.03,273.61 L793.11,273.15 L793.20,272.68 L793.28,272.22 L793.36,271.75 L793.45,271.29 L793.53,270.83 L793.62,270.37 L793.71,269.91 L793.80,269.45 L793.89,268.98 L793.98,268.52 L794.08,268.06 L794.18,267.60 L794.27,267.14 L794.37,266.67 L794.48,266.21 L794.58,265.74 L794.69,265.27 L794.80,264.80 L794.91,264.33 L795.02,263.86 L795.14,263.38 L795.26,262.90 L795.38,262.42 L795.51,261.93 L795.64,261.44 L795.77,260.95 L795.91,260.45 L796.05,259.95 L796.19,259.45 L796.33,258.94 L796.48,258.43 L796.64,257.91 L796.79,257.39 L796.95,256.86 L797.12,256.33 L797.29,255.79 L797.46,255.25 L797.64,254.70 L797.82,254.14 L798.01,253.58 L798.20,253.01 L798.39,252.44 L798.59,251.86 L798.80,251.28 L799.01,250.70 L799.23,250.15 L799.45,249.62 L799.67,249.13 L799.91,248.68 L800.14,248.28 L800.39,247.95 L800.64,247.68 L800.89,247.49 L801.15,247.39 L801.42,247.38 L801.69,247.47 L801.97,247.65 L802.24,247.90 L802.53,248.24 L802.81,248.63 L803.09,249.08 L803.37,249.57 L803.64,250.11 L803.91,250.66 L804.18,251.24 L804.43,251.83 L804.68,252.43 L804.92,253.01 L805.15,253.59 L805.37,254.16 L805.58,254.72 L805.78,255.28 L805.97,255.83 L806.15,256.37 L806.33,256.90 L806.49,257.43 L806.65,257.95 L806.80,258.46 L806.94,258.97 L807.08,259.47 L807.21,259.97 L807.33,260.46 L807.44,260.95 L807.55,261.43 L807.66,261.90 L807.75,262.38 L807.84,262.85 L807.93,263.31 L808.01,263.77 L808.09,264.23 L808.16,264.68 L808.23,265.13 L808.30,265.58 L808.36,266.03 L808.42,266.47 L808.47,266.91 L808.52,267.35 L808.57,267.79 L808.62,268.22 L808.66,268.66 L808.70,269.09 L808.74,269.53 L808.78,269.96 L808.82,270.39 L808.86,270.82 L808.90,271.26 L808.93,271.69 L808.97,272.12 L809.00,272.56 L809.04,272.99 L809.08,273.43 L809.12,273.87 L809.16,274.31 L809.20,274.75 L809.24,275.19 L809.28,275.64 L809.33,276.09 L809.38,276.54 L809.43,277.00 L809.48,277.45 L809.54,277.92 L809.60,278.38 L809.67,278.85 L809.74,279.33 L809.81,279.81 L809.89,280.29 L809.97,280.78 L810.05,281.27 L810.15,281.77 L810.24,282.28 L810.35,282.79 L810.45,283.30 L810.57,283.83 L810.69,284.36 L810.82,284.89 L810.95,285.43 L811.10,285.99 L811.25,286.54 L811.40,287.11 L811.57,287.68 L811.74,288.26 L811.93,288.85 L812.12,289.45 L812.32,290.06 L812.52,290.68 L812.74,291.30 L812.97,291.93 L813.21,292.56 L813.45,293.19 L813.70,293.80 L813.96,294.40 L814.22,294.97 L814.49,295.52 L814.76,296.04 L815.04,296.52 L815.32,296.95 L815.60,297.34 L815.89,297.68 L816.18,297.95 L816.47,298.17 L816.76,298.31 L817.04,298.38 L817.33,298.37 L817.62,298.27 L817.90,298.10 L818.18,297.86 L818.46,297.56 L818.73,297.20 L819.00,296.79 L819.27,296.35 L819.53,295.88 L819.78,295.38 L820.02,294.86 L820.26,294.34 L820.49,293.81 L820.71,293.29 L820.93,292.77 L821.13,292.25 L821.33,291.73 L821.53,291.22 L821.72,290.71 L821.91,290.20 L822.10,289.69 L822.29,289.19 L822.47,288.70 L822.65,288.21 L822.84,287.72 L823.02,287.24 L823.21,286.76 L823.40,286.29 L823.59,285.82 L823.79,285.36 L823.99,284.91 L824.20,284.47 L824.41,284.03 L824.63,283.60 L824.86,283.18 L825.10,282.77 L825.34,282.40 L825.60,282.05 L825.87,281.76 L826.15,281.52 L826.44,281.35 L826.74,281.26 L827.06,281.25 L827.39,281.34 L827.74,281.51 L828.09,281.76 L828.44,282.07 L828.80,282.45 L829.17,282.87 L829.52,283.34 L829.88,283.84 L830.22,284.36 L830.56,284.89 L830.88,285.44 L831.18,285.98 L831.47,286.51 L831.74,287.05 L832.00,287.58 L832.24,288.10 L832.47,288.63 L832.69,289.15 L832.89,289.66 L833.08,290.18 L833.25,290.69 L833.42,291.20 L833.57,291.70 L833.71,292.21 L833.84,292.71 L833.95,293.21 L834.06,293.71 L834.16,294.20 L834.25,294.69 L834.33,295.18 L834.40,295.67 L834.47,296.16 L834.52,296.65 L834.57,297.13 L834.62,297.61 L834.65,298.09 L834.68,298.57 L834.71,299.05 L834.73,299.53 L834.75,300.01 L834.76,300.49 L834.77,300.96 L834.77,301.44 L834.78,301.91 L834.78,302.39 L834.78,302.86 L834.77,303.34 L834.77,303.81 L834.76,304.29 L834.76,304.76 L834.75,305.24 L834.75,305.71 L834.75,306.19 L834.75,306.66 L834.75,307.14 L834.75,307.62 L834.75,308.10 L834.76,308.58 L834.78,309.06 L834.79,309.54 L834.82,310.03 L834.84,310.51 L834.87,311.00 L834.91,311.49 L834.96,311.98 L835.01,312.47 L835.06,312.96 L835.13,313.46 L835.20,313.95 L835.28,314.46 L835.38,314.96 L835.48,315.46 L835.59,315.97 L835.71,316.48 L835.84,316.99 L835.98,317.51 L836.13,318.03 L836.30,318.55 L836.47,319.07 L836.66,319.60 L836.87,320.13 L837.08,320.67 L837.31,321.20 L837.55,321.72 L837.81,322.22 L838.07,322.68 L838.34,323.10 L838.62,323.47 L838.90,323.77 L839.19,324.00 L839.48,324.15 L839.77,324.21 L840.07,324.17 L840.37,324.04 L840.66,323.82 L840.96,323.52 L841.25,323.16 L841.54,322.74 L841.82,322.27 L842.10,321.77 L842.36,321.23 L842.62,320.67 L842.87,320.10 L843.11,319.53 L843.34,318.96 L843.55,318.40 L843.75,317.84 L843.94,317.29 L844.12,316.74 L844.29,316.20 L844.45,315.67 L844.60,315.14 L844.74,314.61 L844.87,314.09 L844.99,313.58 L845.11,313.07 L845.21,312.56 L845.31,312.06 L845.40,311.56 L845.48,311.06 L845.56,310.57 L845.63,310.08 L845.69,309.60 L845.75,309.11 L845.81,308.63 L845.86,308.16 L845.90,307.68 L845.94,307.21 L845.97,306.74 L846.01,306.27 L846.04,305.80 L846.06,305.33 L846.09,304.86 L846.11,304.40 L846.13,303.94 L846.15,303.47 L846.17,303.01 L846.18,302.55 L846.20,302.08 L846.22,301.62 L846.24,301.16 L846.25,300.69 L846.27,300.23 L846.30,299.76 L846.32,299.30 L846.34,298.83 L846.37,298.36 L846.40,297.89 L846.44,297.41 L846.47,296.94 L846.51,296.46 L846.56,295.98 L846.61,295.49 L846.67,295.01 L846.73,294.52 L846.79,294.03 L846.87,293.53 L846.95,293.03 L847.03,292.53 L847.13,292.02 L847.23,291.51 L847.34,290.99 L847.45,290.47 L847.58,289.95 L847.71,289.42 L847.86,288.88 L848.01,288.34 L848.17,287.80 L848.35,287.24 L848.53,286.69 L848.73,286.13 L848.93,285.58 L849.14,285.05 L849.37,284.55 L849.60,284.08 L849.83,283.65 L850.08,283.26 L850.33,282.94 L850.58,282.68 L850.84,282.49 L851.10,282.38 L851.37,282.36 L851.64,282.42 L851.91,282.55 L852.18,282.75 L852.45,283.00 L852.73,283.31 L853.00,283.67 L853.27,284.07 L853.55,284.50 L853.81,284.96 L854.08,285.44 L854.34,285.94 L854.60,286.45 L854.85,286.95 L855.10,287.46 L855.34,287.97 L855.58,288.47 L855.82,288.98 L856.05,289.48 L856.27,289.98 L856.49,290.49 L856.70,290.99 L856.92,291.49 L857.12,291.99 L857.32,292.49 L857.52,293.00 L857.71,293.50 L857.90,294.00 L858.09,294.49 L858.27,294.99 L858.44,295.49 L858.61,295.99 L858.78,296.49 L858.95,296.98 L859.11,297.48 L859.26,297.98 L859.42,298.47 L859.57,298.97 L859.71,299.46 L859.85,299.96 L859.99,300.45 L860.13,300.94 L860.26,301.44 L860.39,301.93 L860.51,302.42 L860.63,302.92 L860.75,303.41 L860.87,303.90 L860.98,304.39 L861.09,304.88 L861.20,305.37 L861.30,305.86 L861.40,306.35 L861.50,306.84 L861.59,307.33 L861.69,307.82 L861.78,308.31 L861.86,308.80 L861.95,309.29 L862.03,309.78 L862.11,310.27 L862.19,310.76 L862.26,311.25 L862.33,311.73 L862.41,312.22 L862.47,312.71 L862.54,313.20 L862.60,313.69 L862.67,314.17 L862.73,314.66 L862.79,315.15 L862.84,315.64 L862.90,316.12 L862.95,316.61 L863.00,317.10 L863.05,317.58 L863.10,318.07 L863.15,318.56 L863.20,319.04 L863.24,319.53 L863.29,320.02 L863.33,320.50 L863.37,320.99 L863.41,321.48 L863.45,321.96 L863.49,322.45 L863.52,322.94 L863.56,323.43 L863.59,323.91 L863.63,324.40 L863.66,324.89 L863.69,325.37 L863.73,325.86 L863.76,326.35 L863.79,326.84 L863.82,327.32 L863.85,327.81 L863.88,328.30 L863.91,328.79 L863.94,329.28 L863.97,329.77 L864.00,330.25 L864.03,330.74 L864.06,331.23 L864.09,331.72 L864.12,332.21 L864.15,332.70 L864.18,333.19 L864.21,333.68 L864.24,334.17 L864.27,334.66 L864.30,335.15 L864.33,335.65 L864.36,336.14 L864.40,336.63 L864.43,337.12 L864.46,337.61 L864.50,338.11 L864.54,338.60 L864.57,339.09 L864.61,339.59 L864.65,340.08 L864.69,340.58 L864.73,341.07 L864.77,341.57 L864.82,342.06 L864.86,342.56 L864.91,343.05 L864.96,343.55 L865.00,344.05 L865.05,344.55 L865.11,345.05 L865.16,345.54 L865.22,346.04 L865.27,346.54 L865.33,347.04 L865.39,347.54 L865.46,348.05 L865.52,348.55 L865.59,349.05 L865.66,349.55 L865.73,350.06 L865.80,350.56 L865.87,351.06 L865.95,351.57 L866.03,352.07 L866.11,352.58 L866.20,353.09 L866.29,353.60 L866.38,354.10 L866.47,354.61 L866.56,355.12 L866.66,355.63 L866.76,356.14 L866.86,356.65 L866.97,357.16 L867.08,357.68 L867.19,358.19 L867.30,358.70 L867.41,359.21 L867.53,359.72 L867.64,360.24 L867.76,360.75 L867.88,361.26 L868.00,361.77 L868.12,362.29 L868.25,362.80 L868.37,363.31 L868.50,363.82 L868.62,364.33 L868.75,364.84 L868.88,365.35 L869.00,365.86 L869.13,366.37 L869.26,366.88 L869.39,367.39 L869.52,367.89 L869.65,368.40 L869.77,368.91 L869.90,369.41 L870.03,369.91 L870.16,370.41 L870.28,370.91 L870.41,371.41 L870.53,371.91 L870.66,372.41 L870.78,372.90 L870.90,373.40 L871.02,373.89 L871.14,374.38 L871.26,374.87 L871.37,375.36 L871.48,375.84 L871.60,376.33 L871.71,376.81 L871.81,377.29 L871.92,377.77 L872.02,378.24 L872.12,378.72 L872.22,379.19 L872.32,379.66 L872.41,380.13 L872.50,380.59 L872.59,381.05 L872.67,381.51 L872.75,381.97 L872.83,382.43 L872.91,382.88 L872.98,383.33 L873.07,383.78 L873.17,384.22 L873.28,384.66 L873.42,385.10 L873.58,385.53 L873.78,385.97 L874.01,386.40 L874.29,386.82 L874.62,387.24 L874.99,387.64 L875.40,387.97 L875.84,388.21 L876.31,388.32 L876.79,388.31 L877.29,388.23 L877.79,388.10 L878.29,387.96 L878.78,387.85 L879.25,387.78 L879.69,387.78 L880.10,387.85 L880.47,388.01 L880.78,388.27 L881.05,388.61 L881.27,389.03 L881.47,389.49 L881.65,389.98 L881.81,390.49 L881.97,391.00 L882.13,391.51 L882.29,392.01 L882.44,392.51 L882.59,393.02 L882.73,393.52 L882.87,394.02 L883.01,394.52 L883.15,395.02 L883.28,395.51 L883.41,396.01 L883.53,396.51 L883.65,397.00 L883.77,397.50 L883.89,397.99 L884.01,398.48 L884.12,398.97 L884.23,399.47 L884.34,399.96 L884.44,400.45 L884.55,400.94 L884.65,401.43 L884.74,401.91 L884.84,402.40 L884.94,402.89 L885.03,403.38 L885.12,403.86 L885.21,404.35 L885.29,404.83 L885.38,405.32 L885.46,405.80 L885.55,406.29 L885.63,406.77 L885.71,407.26 L885.79,407.74 L885.86,408.23 L885.94,408.71 L886.01,409.19 L886.09,409.68 L886.16,410.16 L886.23,410.65 L886.30,411.13 L886.38,411.61 L886.45,412.10 L886.52,412.58 L886.58,413.07 L886.65,413.55 L886.72,414.04 L886.79,414.52 L886.86,415.01 L886.93,415.49 L886.99,415.98 L887.06,416.46 L887.13,416.95 L887.20,417.44 L887.26,417.92 L887.33,418.41 L887.40,418.90 L887.47,419.39 L887.54,419.88 L887.61,420.37 L887.67,420.86 L887.74,421.35 L887.81,421.84 L887.88,422.33 L887.95,422.82 L888.02,423.31 L888.09,423.81 L888.16,424.30 L888.23,424.79 L888.30,425.28 L888.36,425.78 L888.43,426.27 L888.50,426.77 L888.57,427.26 L888.64,427.75 L888.71,428.25 L888.78,428.75 L888.85,429.24 L888.92,429.74 L888.99,430.23 L889.06,430.73 L889.13,431.23 L889.20,431.72 L889.27,432.22 L889.34,432.72 L889.41,433.22 L889.48,433.71 L889.54,434.21 L889.61,434.71 L889.68,435.21 L889.75,435.71 L889.82,436.21 L889.89,436.71 L889.96,437.21 L890.03,437.71 L890.10,438.21 L890.17,438.71 L890.23,439.21 L890.30,439.71 L890.37,440.21 L890.44,440.71 L890.51,441.21 L890.58,441.71 L890.64,442.21 L890.71,442.72 L890.78,443.22 L890.85,443.72 L890.91,444.22 L890.98,444.72 L891.05,445.23 L891.12,445.73 L891.18,446.23 L891.25,446.73 L891.32,447.24 L891.38,447.74 L891.45,448.24 L891.52,448.75 L891.58,449.25 L891.65,449.75 L891.71,450.26 L891.78,450.76 L891.84,451.26 L891.91,451.77 L891.97,452.27 L892.04,452.77 L892.10,453.28 L892.16,453.78 L892.23,454.28 L892.29,454.79 L892.35,455.29 L892.42,455.80 L892.48,456.30 L892.54,456.80 L892.60,457.31 L892.67,457.81 L892.73,458.31 L892.79,458.82 L892.85,459.32 L892.91,459.82 L892.97,460.33 L893.03,460.83 L893.09,461.34 L893.15,461.84 L893.21,462.34 L893.27,462.85 L893.33,463.35 L893.39,463.85 L893.44,464.36 L893.50,464.86 L893.56,465.36 L893.62,465.86 L893.67,466.37 L893.73,466.87 L893.78,467.37 L893.84,467.88 L893.90,468.38 L893.95,468.88 L894.00,469.38 L894.06,469.88 L894.11,470.39 L894.17,470.89 L894.22,471.39 L894.27,471.89 L894.32,472.39 L894.37,472.89 L894.42,473.39 L894.48,473.89 L894.53,474.40 L894.58,474.90 L894.62,475.40 L894.67,475.90 L894.72,476.40 L894.77,476.90 L894.82,477.39 L894.86,477.89 L894.91,478.39 L894.96,478.89 L895.00,479.39 L895.05,479.89 L895.09,480.39 L895.14,480.88 L895.18,481.38 L895.22,481.88 L895.27,482.37 L895.31,482.87 L895.35,483.37 L895.39,483.86 L895.43,484.36 L895.47,484.86 L895.51,485.35 L895.55,485.85 L895.59,486.34 L895.62,486.83 L895.66,487.33 L895.70,487.82 L895.73,488.32 L895.77,488.81 L895.80,489.30 L895.84,489.79 L895.87,490.28 L895.91,490.78 L895.94,491.27 L895.97,491.76 L896.00,492.25 L896.03,492.74 L896.06,493.23 L896.09,493.72 L896.12,494.21 L896.15,494.70 L896.18,495.18 L896.20,495.67 L896.23,496.16 L896.26,496.65 L896.28,497.13 L896.30,497.62 L896.33,498.10 L896.35,498.59 L896.38,499.07 L896.40,499.56 L896.43,500.04 L896.45,500.52 L896.48,501.01 L896.51,501.49 L896.54,501.97 L896.57,502.45 L896.61,502.93 L896.65,503.41 L896.69,503.89 L896.73,504.37 L896.78,504.85 L896.83,505.33 L896.89,505.81 L896.95,506.29 L897.01,506.76 L897.08,507.24 L897.16,507.72 L897.24,508.19 L897.32,508.66 L897.42,509.14 L897.51,509.61 L897.62,510.09 L897.73,510.56 L897.85,511.03 L897.98,511.50 L898.11,511.97 L898.25,512.44 L898.40,512.91 L898.56,513.38 L898.73,513.85 L898.90,514.32 L899.09,514.78 L899.28,515.25 L899.49,515.71 L899.70,516.18 L899.93,516.64 L900.17,517.11 L900.41,517.57 L900.67,518.03 L900.94,518.49 L901.22,518.96 L901.52,519.42 L901.82,519.88 L902.14,520.33 L902.48,520.79 L902.82,521.25 L903.18,521.71 L903.55,522.16 L903.94,522.62 L904.20,522.30" stroke="#111" stroke-width="2.2"/>
<path d="M634.23,284.96 L634.48,285.32 L634.74,285.69 L635.00,286.06 L635.27,286.42 L635.55,286.79 L635.84,287.16 L636.13,287.53 L636.43,287.90 L636.74,288.27 L637.05,288.64 L637.37,289.01 L637.70,289.38 L638.03,289.74 L638.37,290.11 L638.72,290.47 L639.07,290.83 L639.42,291.19 L639.79,291.55 L640.16,291.90 L640.53,292.25 L640.91,292.60 L641.29,292.94 L641.68,293.28 L642.08,293.62 L642.48,293.95 L642.88,294.28 L643.29,294.60 L643.71,294.92 L644.12,295.23 L644.55,295.54 L644.97,295.84 L645.40,296.13 L645.84,296.42 L646.28,296.71 L646.72,296.98 L647.16,297.25 L647.61,297.51 L648.07,297.77 L648.52,298.01 L648.98,298.25 L649.44,298.48 L649.91,298.70 L650.37,298.91 L650.84,299.12 L651.32,299.31 L651.79,299.50 L652.27,299.67 L652.75,299.84 L653.23,299.99 L653.71,300.14 L654.19,300.27 L654.68,300.39 L655.17,300.50 L655.66,300.60 L656.15,300.69 L656.64,300.77 L657.13,300.84 L657.62,300.90 L658.12,300.95 L658.61,300.99 L659.11,301.02 L659.60,301.05 L660.10,301.06 L660.59,301.06 L661.09,301.06 L661.58,301.04 L662.08,301.02 L662.57,300.99 L663.07,300.95 L663.56,300.91 L664.06,300.86 L664.55,300.79 L665.04,300.73 L665.53,300.65 L666.02,300.57 L666.51,300.48 L667.00,300.39 L667.48,300.28 L667.96,300.18 L668.45,300.06 L668.93,299.94 L669.40,299.82 L669.88,299.69 L670.35,299.55 L670.82,299.41 L671.29,299.26 L671.76,299.11 L672.22,298.96 L672.68,298.80 L673.14,298.64 L673.59,298.49 L674.04,298.35 L674.49,298.23 L674.93,298.13 L675.37,298.05 L675.80,298.01 L676.23,297.99 L676.65,298.02 L677.07,298.09 L677.48,298.21 L677.89,298.38 L678.29,298.60 L678.68,298.86 L679.07,299.16 L679.45,299.49 L679.83,299.86 L680.20,300.25 L680.56,300.66 L680.91,301.10 L681.26,301.54 L681.59,302.00 L681.92,302.47 L682.24,302.94 L682.56,303.41 L682.86,303.87 L683.16,304.34 L683.45,304.81 L683.73,305.28 L684.01,305.75 L684.28,306.21 L684.54,306.68 L684.80,307.15 L685.06,307.61 L685.31,308.07 L685.56,308.53 L685.80,308.99 L686.04,309.45 L686.27,309.91 L686.51,310.36 L686.74,310.82 L686.97,311.27 L687.20,311.71 L687.42,312.16 L687.65,312.60 L687.88,313.04 L688.10,313.48 L688.33,313.91 L688.56,314.34 L688.79,314.77 L689.02,315.19 L689.26,315.61 L689.49,316.03 L689.73,316.44 L689.97,316.85 L690.22,317.25 L690.47,317.65 L690.72,318.05 L690.98,318.44 L691.25,318.83 L691.52,319.21 L691.79,319.58 L692.08,319.95 L692.37,320.32 L692.66,320.68 L692.97,321.03 L693.28,321.38 L693.60,321.72 L693.93,322.06 L694.27,322.39 L694.61,322.72 L694.97,323.03 L695.33,323.35 L695.70,323.66 L696.08,323.96 L696.46,324.26 L696.85,324.55 L697.25,324.85 L697.65,325.13 L698.06,325.42 L698.48,325.70 L698.90,325.98 L699.32,326.25 L699.75,326.52 L700.18,326.79 L700.61,327.06 L701.05,327.33 L701.49,327.59 L701.94,327.86 L702.38,328.12 L702.83,328.38 L703.28,328.65 L703.73,328.91 L704.18,329.17 L704.63,329.43 L705.09,329.69 L705.54,329.96 L705.99,330.22 L706.44,330.49 L706.89,330.76 L707.34,331.03 L707.79,331.30 L708.23,331.58 L708.67,331.85 L709.11,332.13 L709.55,332.42 L709.98,332.70 L710.41,333.00 L710.84,333.29 L711.26,333.59 L711.67,333.89 L712.09,334.20 L712.49,334.51 L712.89,334.83 L713.28,335.16 L713.67,335.49 L714.05,335.82 L714.43,336.17 L714.79,336.51 L715.15,336.87 L715.51,337.23 L715.85,337.59 L716.20,337.96 L716.53,338.33 L716.86,338.71 L717.19,339.09 L717.52,339.48 L717.84,339.86 L718.15,340.25 L718.47,340.64 L718.78,341.03 L719.09,341.42 L719.40,341.81 L719.70,342.21 L720.01,342.60 L720.31,342.99 L720.62,343.38 L720.92,343.77 L721.23,344.15 L721.54,344.54 L721.84,344.92 L722.15,345.30 L722.46,345.67 L722.78,346.04 L723.09,346.41 L723.41,346.78 L723.73,347.14 L724.05,347.50 L724.37,347.86 L724.70,348.21 L725.03,348.57 L725.35,348.92 L725.69,349.27 L726.02,349.62 L726.36,349.96 L726.70,350.31 L727.04,350.65 L727.38,351.00 L727.73,351.34 L728.08,351.68 L728.43,352.02 L728.78,352.36 L729.14,352.70 L729.50,353.04 L729.86,353.38 L730.22,353.72 L730.59,354.06 L730.96,354.40 L731.33,354.74 L731.71,355.09 L732.09,355.43 L732.47,355.77 L732.85,356.12 L733.23,356.46 L733.62,356.81 L734.00,357.16 L734.39,357.51 L734.77,357.87 L735.15,358.22 L735.53,358.58 L735.91,358.94 L736.28,359.30 L736.66,359.66 L737.03,360.03 L737.39,360.40 L737.75,360.77 L738.10,361.15 L738.45,361.53 L738.79,361.91 L739.13,362.30 L739.45,362.69 L739.77,363.09 L740.09,363.48 L740.39,363.89 L740.68,364.29 L740.97,364.70 L741.25,365.12 L741.52,365.54 L741.79,365.96 L742.05,366.38 L742.30,366.81 L742.55,367.24 L742.79,367.67 L743.02,368.11 L743.25,368.55 L743.47,368.99 L743.69,369.44 L743.90,369.88 L744.11,370.33 L744.31,370.79 L744.51,371.24 L744.70,371.70 L744.90,372.15 L745.08,372.61 L745.27,373.07 L745.45,373.54 L745.62,374.00 L745.80,374.47 L745.97,374.94 L746.14,375.40 L746.31,375.87 L746.47,376.34 L746.64,376.81 L746.80,377.29 L746.96,377.76 L747.12,378.23 L747.28,378.70 L747.44,379.18 L747.60,379.65 L747.76,380.12 L747.92,380.60 L748.08,381.07 L748.25,381.54 L748.41,382.01 L748.57,382.49 L748.74,382.96 L748.90,383.43 L749.07,383.90 L749.24,384.37 L749.41,384.83 L749.59,385.30 L749.76,385.76 L749.94,386.23 L750.13,386.69 L750.32,387.15 L750.51,387.61 L750.70,388.06 L750.90,388.52 L751.10,388.97 L751.31,389.42 L751.52,389.87 L751.74,390.32 L751.96,390.76 L752.19,391.20 L752.43,391.64 L752.67,392.07 L752.91,392.50 L753.17,392.93 L753.42,393.36 L753.69,393.78 L753.96,394.20 L754.24,394.61 L754.53,395.02 L754.83,395.43 L755.13,395.84 L755.44,396.24 L755.76,396.63 L756.09,397.02 L756.43,397.41 L756.78,397.79 L757.14,398.17 L757.50,398.52 L757.87,398.86 L758.25,399.17 L758.64,399.44 L759.04,399.67 L759.44,399.86 L759.85,399.99 L760.26,400.06 L760.68,400.06 L761.11,400.01 L761.54,399.90 L761.97,399.74 L762.41,399.54 L762.85,399.29 L763.30,399.01 L763.75,398.69 L764.20,398.34 L764.65,397.97 L765.11,397.59 L765.56,397.18 L766.02,396.77 L766.48,396.35 L766.94,395.93 L767.40,395.51 L767.86,395.09 L768.31,394.69 L768.77,394.29 L769.22,393.91 L769.68,393.54 L770.13,393.19 L770.58,392.86 L771.02,392.55 L771.46,392.27 L771.90,392.02 L772.33,391.79 L772.76,391.60 L773.18,391.45 L773.60,391.34 L774.02,391.27 L774.42,391.24 L774.82,391.25 L775.22,391.31 L775.60,391.42 L775.98,391.56 L776.36,391.74 L776.72,391.96 L777.09,392.21 L777.44,392.49 L777.79,392.80 L778.13,393.13 L778.46,393.49 L778.79,393.87 L779.11,394.27 L779.42,394.69 L779.72,395.12 L780.02,395.56 L780.31,396.02 L780.60,396.48 L780.88,396.95 L781.15,397.42 L781.41,397.89 L781.67,398.37 L781.91,398.84 L782.16,399.31 L782.39,399.79 L782.62,400.26 L782.84,400.74 L783.06,401.21 L783.27,401.69 L783.47,402.16 L783.67,402.64 L783.86,403.12 L784.04,403.59 L784.22,404.07 L784.40,404.55 L784.57,405.03 L784.73,405.51 L784.89,405.99 L785.04,406.46 L785.19,406.94 L785.33,407.42 L785.47,407.90 L785.61,408.38 L785.74,408.87 L785.86,409.35 L785.98,409.83 L786.10,410.31 L786.21,410.79 L786.32,411.28 L786.43,411.76 L786.53,412.24 L786.62,412.73 L786.72,413.21 L786.81,413.69 L786.90,414.18 L786.98,414.66 L787.07,415.15 L787.15,415.63 L787.22,416.12 L787.30,416.61 L787.37,417.09 L787.44,417.58 L787.50,418.07 L787.57,418.55 L787.63,419.04 L787.69,419.53 L787.75,420.02 L787.81,420.50 L787.87,420.99 L787.92,421.48 L787.97,421.97 L788.03,422.46 L788.08,422.95 L788.13,423.44 L788.18,423.93 L788.23,424.42 L788.28,424.91 L788.32,425.40 L788.37,425.89 L788.42,426.39 L788.47,426.88 L788.52,427.37 L788.56,427.86 L788.61,428.35 L788.66,428.85 L788.71,429.34 L788.75,429.83 L788.80,430.33 L788.85,430.82 L788.89,431.31 L788.94,431.81 L788.99,432.30 L789.03,432.80 L789.08,433.29 L789.13,433.79 L789.17,434.28 L789.22,434.78 L789.27,435.27 L789.31,435.77 L789.36,436.26 L789.41,436.76 L789.45,437.26 L789.50,437.75 L789.55,438.25 L789.59,438.74 L789.64,439.24 L789.68,439.74 L789.73,440.24 L789.78,440.73 L789.82,441.23 L789.87,441.73 L789.92,442.23 L789.96,442.73 L790.01,443.22 L790.05,443.72 L790.10,444.22 L790.15,444.72 L790.19,445.22 L790.24,445.72 L790.29,446.22 L790.33,446.72 L790.38,447.22 L790.42,447.72 L790.47,448.22 L790.52,448.72 L790.56,449.22 L790.61,449.72 L790.66,450.22 L790.70,450.72 L790.75,451.22 L790.80,451.72 L790.84,452.22 L790.89,452.72 L790.94,453.22 L790.99,453.72 L791.03,454.22 L791.08,454.72 L791.13,455.23 L791.17,455.73 L791.22,456.23 L791.27,456.73 L791.32,457.23 L791.36,457.73 L791.41,458.24 L791.46,458.74 L791.51,459.24 L791.56,459.74 L791.60,460.24 L791.65,460.75 L791.70,461.25 L791.75,461.75 L791.80,462.25 L791.85,462.76 L791.90,463.26 L791.94,463.76 L791.99,464.26 L792.04,464.77 L792.09,465.27 L792.14,465.77 L792.19,466.27 L792.24,466.78 L792.29,467.28 L792.34,467.78 L792.39,468.29 L792.44,468.79 L792.49,469.29 L792.54,469.80 L792.59,470.30 L792.65,470.80 L792.70,471.30 L792.75,471.81 L792.80,472.31 L792.85,472.81 L792.90,473.32 L792.95,473.82 L793.01,474.32 L793.06,474.82 L793.11,475.33 L793.16,475.83 L793.22,476.33 L793.27,476.83 L793.32,477.34 L793.37,477.84 L793.43,478.34 L793.48,478.84 L793.53,479.35 L793.59,479.85 L793.64,480.35 L793.69,480.85 L793.75,481.35 L793.80,481.85 L793.86,482.35 L793.91,482.85 L793.96,483.35 L794.02,483.85 L794.07,484.35 L794.13,484.85 L794.18,485.35 L794.24,485.85 L794.29,486.35 L794.35,486.85 L794.40,487.35 L794.46,487.85 L794.51,488.35 L794.57,488.85 L794.62,489.34 L794.68,489.84 L794.73,490.34 L794.79,490.84 L794.85,491.33 L794.90,491.83 L794.96,492.32 L795.01,492.82 L795.07,493.32 L795.13,493.81 L795.18,494.31 L795.24,494.80 L795.30,495.29 L795.35,495.79 L795.41,496.28 L795.47,496.78 L795.52,497.27 L795.58,497.76 L795.64,498.25 L795.69,498.74 L795.75,499.23 L795.81,499.73 L795.87,500.22 L795.92,500.71 L795.98,501.20 L796.04,501.68 L796.10,502.17 L796.15,502.66 L796.21,503.15 L796.27,503.64 L796.33,504.12 L796.39,504.61 L796.44,505.09 L796.50,505.58 L796.56,506.06 L796.62,506.55 L796.68,507.03 L796.74,507.52 L796.79,508.00 L796.85,508.48 L796.91,508.96 L796.97,509.44 L797.03,509.92 L797.09,510.40 L797.15,510.88 L797.21,511.36 L797.26,511.84 L797.32,512.32 L797.38,512.80 L797.44,513.27 L797.50,513.75 L797.56,514.22 L797.62,514.70 L797.68,515.17 L797.74,515.65 L797.80,516.12 L797.86,516.59 L797.92,517.06 L797.98,517.54 L798.03,518.01 L798.09,518.48 L798.15,518.96 L798.21,519.43 L798.27,519.91 L798.33,520.39 L798.39,520.87 L798.45,521.36 L798.51,521.84 L798.57,522.33 L798.63,522.82 L798.69,523.32 L798.75,523.82 L798.81,524.32 L798.87,524.83 L798.93,525.34 L798.99,525.86 L799.05,526.38 L799.11,526.91 L799.17,527.44 L799.23,527.98 L799.29,528.53 L799.35,529.08 L799.41,529.64 L799.47,530.20 L799.53,530.78 L799.59,531.36 L799.65,531.95 L799.71,532.54 L799.77,533.15 L799.83,533.76 L799.89,534.38 L799.95,534.99 L800.01,535.59 L800.07,536.17 L800.13,536.73 L800.19,537.25 L800.25,537.73 L800.31,538.17 L800.37,538.54 L800.43,538.86 L800.49,539.10 L800.55,539.27 L800.61,539.35 L800.67,539.34 L800.73,539.26 L800.79,539.10 L800.85,538.87 L800.91,538.58 L800.97,538.22 L801.03,537.81 L801.09,537.35 L801.15,536.84 L801.21,536.29 L801.27,535.70 L801.33,535.08 L801.39,534.43 L801.45,533.76 L801.51,533.08 L801.57,532.38 L801.63,531.67 L801.69,530.96 L801.75,530.25 L801.81,529.55 L801.87,528.86 L801.93,528.18 L801.99,527.52 L802.05,526.88 L802.11,526.25 L802.17,525.64 L802.22,525.03 L802.28,524.45 L802.34,523.87 L802.40,523.31 L802.46,522.76 L802.52,522.21 L802.58,521.68 L802.64,521.16 L802.70,520.65 L802.76,520.15 L802.82,519.66 L802.87,519.17 L802.93,518.70 L802.99,518.23 L803.05,517.76 L803.11,517.30 L803.17,516.85 L803.23,516.40 L803.28,515.96 L803.34,515.52 L803.40,515.08 L803.46,514.65 L803.52,514.21 L803.58,513.78 L803.63,513.35 L803.69,512.93 L803.75,512.50 L803.81,512.07 L803.86,511.64 L803.92,511.21 L803.98,510.77 L804.04,510.34 L804.10,509.90 L804.15,509.46 L804.21,509.01 L804.27,508.56 L804.32,508.11 L804.38,507.65 L804.44,507.19 L804.50,506.73 L804.55,506.26 L804.61,505.79 L804.67,505.32 L804.72,504.84 L804.78,504.36 L804.83,503.88 L804.89,503.39 L804.95,502.91 L805.00,502.42 L805.06,501.92 L805.11,501.43 L805.17,500.93 L805.23,500.44 L805.28,499.94 L805.34,499.43 L805.39,498.93 L805.45,498.42 L805.50,497.92 L805.56,497.41 L805.61,496.90 L805.67,496.39 L805.72,495.88 L805.78,495.36 L805.83,494.85 L805.89,494.33 L805.94,493.82 L806.00,493.30 L806.05,492.78 L806.10,492.27 L806.16,491.75 L806.21,491.23 L806.26,490.71 L806.32,490.20 L806.37,489.68 L806.42,489.16 L806.48,488.64 L806.53,488.13 L806.58,487.61 L806.64,487.09 L806.69,486.58 L806.74,486.06 L806.79,485.55 L806.85,485.04 L806.90,484.53 L806.95,484.02 L807.00,483.51 L807.05,483.00 L807.11,482.49 L807.16,481.98 L807.21,481.47 L807.26,480.97 L807.31,480.46 L807.36,479.96 L807.41,479.45 L807.46,478.95 L807.51,478.45 L807.56,477.94 L807.61,477.44 L807.66,476.94 L807.71,476.44 L807.76,475.94 L807.81,475.44 L807.86,474.94 L807.91,474.45 L807.96,473.95 L808.01,473.45 L808.06,472.95 L808.11,472.46 L808.16,471.96 L808.20,471.47 L808.25,470.97 L808.30,470.48 L808.35,469.98 L808.40,469.49 L808.44,469.00 L808.49,468.51 L808.54,468.01 L808.58,467.52 L808.63,467.03 L808.68,466.54 L808.72,466.05 L808.77,465.55 L808.82,465.06 L808.86,464.57 L808.91,464.08 L808.95,463.59 L809.00,463.10 L809.05,462.61 L809.09,462.12 L809.14,461.63 L809.18,461.14 L809.22,460.65 L809.27,460.16 L809.31,459.67 L809.36,459.19 L809.40,458.70 L809.44,458.21 L809.49,457.72 L809.53,457.23 L809.57,456.74 L809.62,456.25 L809.66,455.76 L809.70,455.27 L809.74,454.78 L809.79,454.29 L809.83,453.80 L809.87,453.31 L809.91,452.82 L809.95,452.33 L809.99,451.84 L810.03,451.35 L810.07,450.86 L810.11,450.37 L810.15,449.88 L810.19,449.38 L810.23,448.89 L810.27,448.40 L810.31,447.91 L810.35,447.41 L810.39,446.92 L810.43,446.43 L810.47,445.93 L810.51,445.44 L810.54,444.94 L810.58,444.45 L810.62,443.95 L810.66,443.46 L810.69,442.96 L810.73,442.46 L810.77,441.96 L810.80,441.46 L810.84,440.97 L810.88,440.47 L810.91,439.97 L810.95,439.47 L810.98,438.96 L811.02,438.46 L811.05,437.96 L811.09,437.46 L811.12,436.95 L811.16,436.45 L811.19,435.94 L811.22,435.44 L811.26,434.93 L811.29,434.42 L811.32,433.91 L811.36,433.41 L811.39,432.90 L811.42,432.39 L811.45,431.87 L811.48,431.36 L811.52,430.85 L811.55,430.34 L811.58,429.82 L811.62,429.31 L811.65,428.79 L811.68,428.28 L811.72,427.76 L811.76,427.25 L811.79,426.74 L811.83,426.22 L811.87,425.71 L811.92,425.19 L811.96,424.68 L812.00,424.17 L812.05,423.65 L812.10,423.14 L812.15,422.63 L812.21,422.12 L812.26,421.61 L812.32,421.10 L812.39,420.59 L812.45,420.08 L812.52,419.58 L812.59,419.07 L812.66,418.57 L812.74,418.07 L812.82,417.57 L812.90,417.07 L812.99,416.57 L813.08,416.07 L813.18,415.58 L813.28,415.09 L813.39,414.60 L813.49,414.11 L813.61,413.62 L813.73,413.14 L813.85,412.66 L813.98,412.18 L814.11,411.70 L814.25,411.23 L814.39,410.75 L814.54,410.28 L814.70,409.82 L814.86,409.35 L815.02,408.89 L815.19,408.43 L815.37,407.98 L815.56,407.53 L815.75,407.08 L815.94,406.63 L816.15,406.19 L816.36,405.75 L816.58,405.32 L816.80,404.88 L817.03,404.46 L817.27,404.03 L817.52,403.61 L817.77,403.19 L818.03,402.78 L818.30,402.39 L818.57,402.02 L818.85,401.70 L819.13,401.45 L819.42,401.26 L819.71,401.17 L819.99,401.19 L820.28,401.30 L820.57,401.52 L820.85,401.82 L821.13,402.19 L821.40,402.62 L821.66,403.11 L821.92,403.64 L822.17,404.20 L822.40,404.79 L822.63,405.38 L822.84,405.97 L823.03,406.56 L823.21,407.14 L823.38,407.71 L823.54,408.27 L823.68,408.83 L823.81,409.38 L823.93,409.92 L824.04,410.46 L824.15,410.99 L824.24,411.51 L824.32,412.03 L824.39,412.55 L824.46,413.06 L824.52,413.56 L824.57,414.06 L824.62,414.56 L824.66,415.05 L824.69,415.53 L824.73,416.01 L824.75,416.49 L824.78,416.97 L824.80,417.44 L824.82,417.91 L824.84,418.37 L824.85,418.83 L824.87,419.29 L824.89,419.75 L824.90,420.21 L824.92,420.66 L824.94,421.11 L824.96,421.56 L824.99,422.01 L825.02,422.46 L825.05,422.91 L825.08,423.36 L825.12,423.81 L825.16,424.26 L825.21,424.71 L825.26,425.16 L825.31,425.62 L825.37,426.07 L825.44,426.53 L825.50,427.00 L825.57,427.47 L825.65,427.94 L825.73,428.42 L825.82,428.90 L825.91,429.39 L826.01,429.89 L826.11,430.39 L826.22,430.90 L826.33,431.42 L826.45,431.95 L826.57,432.48 L826.70,433.03 L826.83,433.58 L826.98,434.15 L827.12,434.72 L827.28,435.31 L827.44,435.91 L827.60,436.52 L827.78,437.13 L827.96,437.74 L828.14,438.35 L828.34,438.93 L828.54,439.49 L828.75,440.02 L828.96,440.50 L829.18,440.94 L829.41,441.32 L829.65,441.64 L829.90,441.89 L830.15,442.06 L830.41,442.14 L830.68,442.13 L830.95,442.03 L831.23,441.84 L831.52,441.59 L831.80,441.27 L832.09,440.90 L832.37,440.49 L832.65,440.03 L832.92,439.55 L833.18,439.05 L833.43,438.54 L833.68,438.02 L833.91,437.51 L834.12,437.01 L834.33,436.51 L834.52,436.01 L834.71,435.52 L834.88,435.03 L835.04,434.55 L835.20,434.07 L835.34,433.59 L835.48,433.11 L835.61,432.63 L835.73,432.15 L835.84,431.68 L835.95,431.20 L836.06,430.73 L836.16,430.25 L836.25,429.77 L836.34,429.29 L836.42,428.81 L836.51,428.32 L836.59,427.84 L836.67,427.35 L836.74,426.85 L836.82,426.36 L836.90,425.85 L836.97,425.35 L837.05,424.83 L837.12,424.31 L837.20,423.79 L837.28,423.26 L837.37,422.72 L837.45,422.19 L837.54,421.64 L837.62,421.10 L837.71,420.55 L837.80,420.00 L837.90,419.45 L837.99,418.90 L838.08,418.35 L838.18,417.80 L838.27,417.25 L838.37,416.71 L838.47,416.16 L838.57,415.63 L838.67,415.10 L838.77,414.57 L838.87,414.05 L838.97,413.53 L839.08,413.03 L839.18,412.53 L839.29,412.04 L839.39,411.56 L839.50,411.09 L839.60,410.64 L839.71,410.19 L839.82,409.76 L839.92,409.33 L840.03,408.93 L840.14,408.54 L840.24,408.16 L840.35,407.82 L840.46,407.52 L840.57,407.26 L840.67,407.07 L840.78,406.94 L840.89,406.89 L840.99,406.92 L841.10,407.02 L841.21,407.20 L841.31,407.44 L841.42,407.73 L841.52,408.08 L841.62,408.48 L841.73,408.92 L841.83,409.40 L841.93,409.91 L842.03,410.44 L842.13,410.99 L842.23,411.56 L842.32,412.13 L842.42,412.71 L842.52,413.28 L842.61,413.86 L842.70,414.43 L842.80,414.99 L842.89,415.56 L842.98,416.12 L843.07,416.68 L843.15,417.23 L843.24,417.78 L843.33,418.33 L843.41,418.88 L843.50,419.42 L843.58,419.97 L843.66,420.51 L843.74,421.04 L843.82,421.58 L843.90,422.11 L843.98,422.64 L844.06,423.16 L844.14,423.69 L844.21,424.21 L844.29,424.73 L844.36,425.25 L844.44,425.77 L844.51,426.28 L844.59,426.79 L844.66,427.30 L844.73,427.81 L844.80,428.31 L844.87,428.82 L844.94,429.32 L845.01,429.82 L845.08,430.32 L845.14,430.82 L845.21,431.31 L845.28,431.81 L845.34,432.30 L845.41,432.79 L845.47,433.28 L845.54,433.77 L845.60,434.26 L845.66,434.75 L845.73,435.23 L845.79,435.71 L845.85,436.20 L845.91,436.68 L845.98,437.16 L846.04,437.64 L846.10,438.12 L846.16,438.59 L846.22,439.07 L846.28,439.55 L846.34,440.02 L846.40,440.50 L846.46,440.97 L846.52,441.44 L846.58,441.91 L846.63,442.39 L846.69,442.86 L846.75,443.33 L846.81,443.80 L846.87,444.27 L846.93,444.74 L846.98,445.21 L847.04,445.68 L847.10,446.15 L847.16,446.62 L847.21,447.09 L847.27,447.56 L847.33,448.03 L847.39,448.49 L847.45,448.96 L847.50,449.43 L847.56,449.90 L847.62,450.37 L847.68,450.84 L847.74,451.31 L847.80,451.79 L847.85,452.26 L847.91,452.73 L847.97,453.20 L848.03,453.68 L848.09,454.15 L848.15,454.63 L848.21,455.10 L848.27,455.58 L848.34,456.06 L848.40,456.54 L848.46,457.02 L848.53,457.51 L848.59,457.99 L848.66,458.48 L848.73,458.97 L848.79,459.46 L848.86,459.95 L848.93,460.45 L849.00,460.95 L849.08,461.45 L849.15,461.95 L849.23,462.46 L849.30,462.97 L849.38,463.48 L849.46,463.99 L849.54,464.51 L849.63,465.03 L849.71,465.56 L849.80,466.09 L849.88,466.62 L849.97,467.15 L850.07,467.69 L850.16,468.24 L850.26,468.79 L850.35,469.34 L850.45,469.89 L850.56,470.45 L850.66,471.02 L850.77,471.59 L850.88,472.16 L850.99,472.73 L851.10,473.31 L851.22,473.88 L851.34,474.46 L851.46,475.03 L851.58,475.59 L851.71,476.15 L851.84,476.70 L851.97,477.23 L852.11,477.76 L852.25,478.28 L852.39,478.78 L852.53,479.27 L852.68,479.74 L852.83,480.19 L852.98,480.62 L853.14,481.03 L853.30,481.42 L853.47,481.78 L853.63,482.12 L853.80,482.42 L853.98,482.70 L854.16,482.93 L854.33,483.11 L854.52,483.21 L854.70,483.25 L854.88,483.20 L855.06,483.07 L855.24,482.86 L855.42,482.60 L855.60,482.27 L855.78,481.89 L855.95,481.46 L856.12,480.99 L856.28,480.49 L856.45,479.97 L856.60,479.42 L856.75,478.86 L856.90,478.29 L857.03,477.72 L857.17,477.16 L857.29,476.60 L857.41,476.04 L857.52,475.48 L857.63,474.93 L857.73,474.39 L857.83,473.84 L857.92,473.30 L858.01,472.76 L858.10,472.23 L858.18,471.70 L858.26,471.17 L858.34,470.65 L858.42,470.13 L858.50,469.61 L858.57,469.09 L858.64,468.58 L858.72,468.07 L858.79,467.57 L858.87,467.07 L858.94,466.57 L859.02,466.07 L859.09,465.57 L859.17,465.08 L859.26,464.59 L859.34,464.11 L859.43,463.62 L859.52,463.14 L859.62,462.67 L859.72,462.19 L859.82,461.72 L859.93,461.25 L860.05,460.78 L860.17,460.31 L860.30,459.85 L860.43,459.39 L860.58,458.93 L860.72,458.47 L860.88,458.02 L861.05,457.57 L861.22,457.12 L861.40,456.67 L861.60,456.23 L861.80,455.78 L862.01,455.34 L862.23,454.90 L862.47,454.46 L862.71,454.03 L862.97,453.60 L863.24,453.16 L863.52,452.74 L863.81,452.32 L864.11,451.94 L864.42,451.60 L864.74,451.32 L865.06,451.11 L865.38,450.98 L865.71,450.95 L866.04,451.01 L866.36,451.15 L866.69,451.35 L867.01,451.62 L867.32,451.93 L867.62,452.30 L867.92,452.69 L868.20,453.11 L868.47,453.55 L868.73,454.01 L868.97,454.47 L869.20,454.94 L869.42,455.43 L869.63,455.92 L869.83,456.43 L870.02,456.94 L870.20,457.45 L870.37,457.97 L870.53,458.50 L870.69,459.03 L870.83,459.57 L870.98,460.10 L871.11,460.64 L871.24,461.18 L871.37,461.71 L871.50,462.25 L871.62,462.79 L871.73,463.32 L871.85,463.84 L871.97,464.37 L872.08,464.88 L872.20,465.40 L872.31,465.90 L872.43,466.40 L872.54,466.89 L872.66,467.38 L872.78,467.87 L872.89,468.35 L873.01,468.82 L873.14,469.29 L873.26,469.75 L873.39,470.22 L873.52,470.67 L873.65,471.13 L873.78,471.58 L873.92,472.03 L874.06,472.47 L874.20,472.92 L874.35,473.36 L874.50,473.79 L874.66,474.23 L874.82,474.66 L874.98,475.10 L875.15,475.53 L875.32,475.96 L875.50,476.39 L875.69,476.81 L875.88,477.24 L876.07,477.67 L876.28,478.10 L876.49,478.53 L876.70,478.95 L876.92,479.38 L877.15,479.81 L877.39,480.24 L877.63,480.68 L877.88,481.11 L878.14,481.55 L878.41,481.98 L878.68,482.42 L878.96,482.86 L879.24,483.31 L879.52,483.75 L879.81,484.20 L880.09,484.65 L880.38,485.09 L880.66,485.54 L880.94,486.00 L881.21,486.45 L881.48,486.90 L881.74,487.36 L882.00,487.82 L882.25,488.27 L882.50,488.73 L882.74,489.19 L882.97,489.65 L883.20,490.12 L883.42,490.58 L883.64,491.04 L883.84,491.51 L884.05,491.97 L884.24,492.44 L884.42,492.90 L884.60,493.37 L884.78,493.84 L884.94,494.30 L885.10,494.77 L885.25,495.24 L885.40,495.71 L885.54,496.18 L885.67,496.65 L885.80,497.12 L885.92,497.60 L886.04,498.07 L886.15,498.54 L886.26,499.02 L886.36,499.49 L886.46,499.97 L886.55,500.44 L886.64,500.92 L886.73,501.40 L886.81,501.87 L886.88,502.35 L886.95,502.83 L887.02,503.31 L887.09,503.79 L887.15,504.27 L887.21,504.75 L887.27,505.23 L887.32,505.71 L887.37,506.19 L887.42,506.67 L887.46,507.16 L887.51,507.64 L887.55,508.12 L887.59,508.61 L887.63,509.09 L887.67,509.58 L887.70,510.06 L887.74,510.55 L887.77,511.04 L887.81,511.52 L887.84,512.01 L887.87,512.50 L887.90,512.99 L887.94,513.47 L887.97,513.96 L888.00,514.45 L888.03,514.94 L888.07,515.43 L888.10,515.92 L888.14,516.41 L888.17,516.90 L888.21,517.40 L888.25,517.89 L888.29,518.38 L888.33,518.87 L888.37,519.37 L888.42,519.86 L888.47,520.35 L888.52,520.85 L888.57,521.34 L888.62,521.84 L888.68,522.33 L888.73,522.83 L888.79,523.32 L888.85,523.82 L888.91,524.32 L888.97,524.81 L889.04,525.31 L889.10,525.81 L889.17,526.30 L889.24,526.80 L889.30,527.30 L889.37,527.80 L889.44,528.30 L889.51,528.79 L889.59,529.29 L889.66,529.79 L889.73,530.29 L889.81,530.79 L889.88,531.29 L889.96,531.79 L890.03,532.29 L890.11,532.79 L890.18,533.29 L890.26,533.79 L890.34,534.29 L890.41,534.79 L890.49,535.30 L890.57,535.80 L890.65,536.30 L890.72,536.80 L890.80,537.30 L890.88,537.81 L890.95,538.31 L891.03,538.81 L891.11,539.31 L891.18,539.82 L891.26,540.32 L891.34,540.82 L891.41,541.32 L891.49,541.83 L891.56,542.33 L891.64,542.83 L891.71,543.34 L891.79,543.84 L891.86,544.35 L891.93,544.85 L892.01,545.35 L892.08,545.86 L892.16,546.36 L892.23,546.86 L892.30,547.37 L892.37,547.87 L892.45,548.38 L892.52,548.88 L892.59,549.39 L892.66,549.89 L892.73,550.39 L892.80,550.90 L892.87,551.40 L892.94,551.91 L893.01,552.41 L893.08,552.91 L893.15,553.42 L893.21,553.92 L893.28,554.43 L893.35,554.93 L893.42,555.44 L893.48,555.94 L893.55,556.44 L893.62,556.95 L893.68,557.45 L893.75,557.96 L893.81,558.46 L893.87,558.96 L893.94,559.47 L894.00,559.97 L894.06,560.47 L894.12,560.98 L894.19,561.48 L894.25,561.98 L894.31,562.49 L894.37,562.99 L894.43,563.49 L894.49,564.00 L894.55,564.50 L894.60,565.00 L894.66,565.50 L894.72,566.00 L894.77,566.51 L894.83,567.01 L894.89,567.51 L894.94,568.01 L895.00,568.51 L895.05,569.01 L895.10,569.52 L895.15,570.02 L895.21,570.52 L895.26,571.02 L895.31,571.52 L895.36,572.02 L895.41,572.52 L895.46,573.02 L895.51,573.52 L895.56,574.01 L895.61,574.51 L895.66,575.01 L895.71,575.50 L895.77,576.00 L895.82,576.49 L895.88,576.98 L895.95,577.48 L896.01,577.97 L896.08,578.45 L896.15,578.94 L896.23,579.42 L896.31,579.90 L896.40,580.39 L896.49,580.86 L896.58,581.34 L896.68,581.81 L896.79,582.28 L896.90,582.75 L897.03,583.22 L897.15,583.68 L897.29,584.14 L897.43,584.59 L897.58,585.05 L897.74,585.50 L897.90,585.94 L898.08,586.38 L898.26,586.82 L898.46,587.26 L898.66,587.69 L898.87,588.12 L899.10,588.54 L899.33,588.96 L899.58,589.37 L899.84,589.78 L900.11,590.19 L900.39,590.59 L900.68,590.98 L900.99,591.37 L901.31,591.76 L901.64,592.14 L901.99,592.52 L902.35,592.89 L902.72,593.25 L903.11,593.61 L903.52,593.96 L903.94,594.31 L904.40,594.20" stroke="#111" stroke-width="2.7" stroke-dasharray="8.6 3.1"/>
</g>
<g font-family="Liberation Sans, sans-serif" font-size="17.1" fill="#2b2b2b" stroke="#2b2b2b" stroke-width="0.45">
<text x="81.5" y="631.70" text-anchor="end">55</text>
<text x="81.5" y="583.65" text-anchor="end">60</text>
<text x="81.5" y="535.60" text-anchor="end">65</text>
<text x="81.5" y="487.55" text-anchor="end">70</text>
<text x="81.5" y="439.50" text-anchor="end">75</text>
<text x="81.5" y="391.45" text-anchor="end">80</text>
<text x="81.5" y="343.40" text-anchor="end">85</text>
<text x="81.5" y="295.35" text-anchor="end">90</text>
<text x="81.5" y="247.30" text-anchor="end">95</text>
<text x="81.5" y="199.25" text-anchor="end">100</text>
<text x="81.5" y="151.20" text-anchor="end">105</text>
<text x="916.4" y="631.70">0</text>
<text x="916.4" y="511.57">50</text>
<text x="916.4" y="391.45">100</text>
<text x="916.4" y="271.32">150</text>
<text x="916.4" y="151.20">200</text>
<text x="92.40" y="649.9" text-anchor="middle">20</text>
<text x="281.70" y="649.9" text-anchor="middle">100</text>
<text x="471.01" y="649.9" text-anchor="middle">500</text>
<text x="552.54" y="649.9" text-anchor="middle">1000</text>
<text x="823.37" y="649.9" text-anchor="middle">10000</text>
<text x="904.90" y="649.9" text-anchor="middle">20000</text>
</g>
<rect x="97.3" y="149.2" width="212.6" height="83" fill="#fff"/>
<path d="M309.9,148.5V232.2H96.6" fill="none" stroke="#9c9c9c" stroke-width="3.3" stroke-linejoin="miter"/>
<path d="M97.3,233.8V149.2H311.5" fill="none" stroke="#666" stroke-width="1.5"/>
<path d="M105.5,165.6H156.5" stroke="#f29a88" stroke-width="3.6" stroke-opacity="0.45"/>
<path d="M105.5,165.6H156.5" stroke="#c9513f" stroke-width="1.8"/>
<path d="M105.5,191.2H156.5" stroke="#555" stroke-width="3.4"/>
<path d="M104.6,217H157.9" stroke="#151515" stroke-width="2.2" stroke-dasharray="8.6 3.7" stroke-dashoffset="2.2"/>
<g font-family="Liberation Sans, sans-serif" font-size="21" fill="#262626" stroke="#262626" stroke-width="0.4">
<text x="174.5" y="173.7" textLength="104" lengthAdjust="spacingAndGlyphs">Impedance</text>
<text x="174.5" y="199.0" textLength="66.5" lengthAdjust="spacingAndGlyphs">on axis</text>
<text x="174.5" y="224.6" textLength="104" lengthAdjust="spacingAndGlyphs">45° off axis</text>
</g>
</g>
<g font-family="Liberation Sans, sans-serif" fill="#2a2a2a">
<text x="411.23" y="691.5" font-size="22.3" textLength="105.07" lengthAdjust="spacingAndGlyphs">Frequency</text>
<text x="522.10" y="691.5" font-size="22.3" textLength="40.23" lengthAdjust="spacingAndGlyphs">(Hz)</text>
<g transform="translate(32.5,0) rotate(-90)" font-size="22.3">
<text x="-556.74" y="0" textLength="38.38" lengthAdjust="spacingAndGlyphs">SPL</text>
<text x="-512.89" y="0" textLength="40.23" lengthAdjust="spacingAndGlyphs">(dB)</text>
<text x="-468.50" y="0" textLength="25.12" lengthAdjust="spacingAndGlyphs">@</text>
<text x="-439.09" y="0" textLength="61.56" lengthAdjust="spacingAndGlyphs">2.83V,</text>
<text x="-372.30" y="0" textLength="37.14" lengthAdjust="spacingAndGlyphs">1m,</text>
<text x="-330.21" y="0" textLength="40.33" lengthAdjust="spacingAndGlyphs">half</text>
<text x="-285.17" y="0" textLength="57.33" lengthAdjust="spacingAndGlyphs">space</text>
</g>
<g transform="translate(974,0) rotate(-90)" font-size="22.3">
<text x="-481.00" y="0" textLength="111.46" lengthAdjust="spacingAndGlyphs">Impedance</text>
<text x="-364.18" y="0" textLength="61.20" lengthAdjust="spacingAndGlyphs">(Ohm)</text>
</g>
</g>
</svg>
</body></html>
